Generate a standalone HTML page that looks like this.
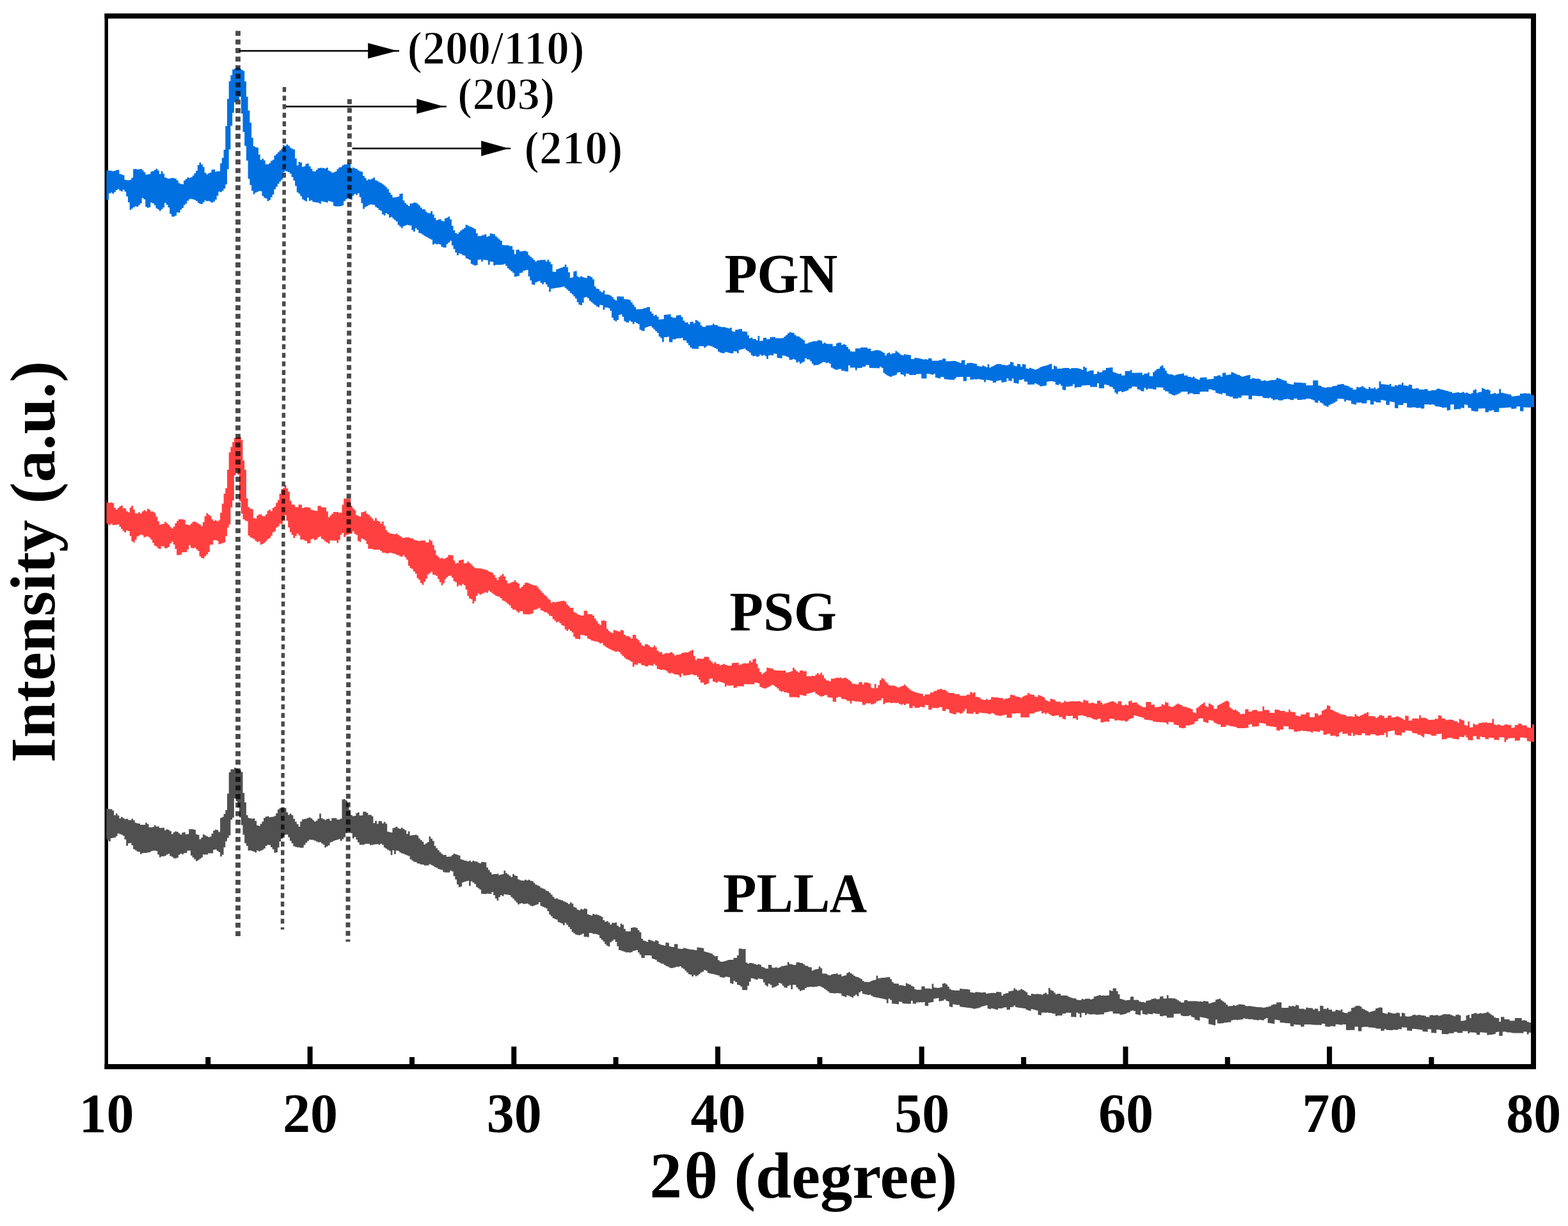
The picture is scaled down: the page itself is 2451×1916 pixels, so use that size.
<!DOCTYPE html>
<html><head><meta charset="utf-8"><title>XRD</title><style>html,body{margin:0;padding:0;background:#fff;overflow:hidden}svg{display:block}text{font-family:"Liberation Serif","Times New Roman",serif;font-weight:bold;fill:#000}</style></head><body>
<svg width="2451" height="1916" viewBox="0 0 2451 1916">
<rect width="2451" height="1916" fill="#fff"/>
<g fill="#000">
<rect x="163.5" y="21" width="2237.5" height="8"/>
<rect x="163.5" y="1663" width="2237.5" height="8"/>
<rect x="163.5" y="21" width="5.5" height="1650"/>
<rect x="2393" y="21" width="8" height="1650"/>
<rect x="321.2" y="1652" width="8" height="12.0"/>
<rect x="480.6" y="1635.6" width="8" height="28.4"/>
<rect x="640.0" y="1652" width="8" height="12.0"/>
<rect x="799.3" y="1635.6" width="8" height="28.4"/>
<rect x="958.6" y="1652" width="8" height="12.0"/>
<rect x="1118.0" y="1635.6" width="8" height="28.4"/>
<rect x="1277.4" y="1652" width="8" height="12.0"/>
<rect x="1436.7" y="1635.6" width="8" height="28.4"/>
<rect x="1596.1" y="1652" width="8" height="12.0"/>
<rect x="1755.4" y="1635.6" width="8" height="28.4"/>
<rect x="1914.8" y="1652" width="8" height="12.0"/>
<rect x="2074.1" y="1635.6" width="8" height="28.4"/>
<rect x="2233.5" y="1652" width="8" height="12.0"/>
</g>
<path fill="#0070E0" d="M166.4,266.2V266.2H167.3V266.6H170.0V266.6H172.8V267.0H175.5V267.6H178.2V267.1H180.9V265.7H183.6V265.5H186.4V271.7H189.1V272.7H191.8V273.8H194.5V280.9H197.2V281.4H200.0V281.8H202.7V281.1H205.4V277.8H208.1V264.3H210.8V264.1H213.6V265.0H216.3V264.5H219.0V264.0H221.7V265.9H224.4V268.9H227.2V272.8H229.9V272.6H232.6V272.1H235.3V268.3H238.0V267.5H240.8V265.7H243.5V263.8H246.2V266.6H248.9V272.0H251.6V267.6H254.4V271.4H257.1V277.2H259.8V278.6H262.5V279.3H265.2V278.8H268.0V278.1H270.7V278.4H273.4V279.3H276.1V282.0H278.8V286.2H281.6V287.6H284.3V288.1H287.0V282.2H289.7V279.7H292.4V277.2H295.2V278.2H297.9V277.0H300.6V274.6H303.3V271.1H306.0V266.9H308.8V258.0H311.5V253.9H314.2V257.1H316.9V260.9H319.6V270.1H322.4V272.4H325.1V270.7H327.8V269.4H330.5V265.3H333.2V264.8H336.0V268.3H338.7V267.8H341.4V267.4H344.1V255.3H346.8V246.7H349.6V234.0H352.3V197.0H355.0V154.5H357.7V127.1H360.4V117.4H363.2V108.6H365.9V107.2H368.6V106.2H371.3V105.3H374.0V107.6H376.8V108.9H379.5V110.8H382.2V127.2H384.9V151.3H387.6V172.7H390.4V191.8H393.1V215.3H395.8V228.5H398.5V230.0H401.2V230.7H404.0V241.6H406.7V249.7H409.4V248.0H412.1V250.7H414.8V256.7H417.6V256.7H420.3V254.9H423.0V251.6H425.7V249.8H428.4V243.3H431.2V240.7H433.9V237.8H436.6V235.2H439.3V232.5H442.0V226.8H444.8V227.9H447.5V225.8H450.2V227.7H452.9V230.7H455.6V232.6H458.4V233.6H461.1V247.6H463.8V258.4H466.5V253.1H469.2V254.0H472.0V260.8H474.7V260.0H477.4V256.3H480.1V255.4H482.8V259.9H485.6V263.7H488.3V267.4H491.0V268.0H493.7V265.6H496.4V263.1H499.2V262.2H501.9V262.5H504.6V262.5H507.3V263.6H510.0V262.0H512.8V266.5H515.5V267.9H518.2V270.1H520.9V269.2H523.6V268.0H526.4V264.4H529.1V261.7H531.8V261.2H534.5V258.5H537.2V257.1H540.0V257.1H542.7V255.0H545.4V256.0H548.1V263.6H550.8V261.7H553.6V262.9H556.3V264.0H559.0V266.2H561.7V267.4H564.4V268.5H567.2V274.9H569.9V278.3H572.6V281.7H575.3V280.3H578.0V280.4H580.8V279.0H583.5V277.6H586.2V281.8H588.9V282.7H591.6V284.7H594.4V285.9H597.1V288.0H599.8V290.0H602.5V292.5H605.2V295.5H608.0V300.9H610.7V304.6H613.4V308.4H616.1V308.6H618.8V307.9H621.6V307.2H624.3V303.0H627.0V302.4H629.7V313.3H632.4V317.2H635.2V319.7H637.9V321.9H640.6V317.9H643.3V318.1H646.0V316.6H648.8V316.8H651.5V318.6H654.2V321.1H656.9V324.6H659.6V327.0H662.4V327.2H665.1V330.7H667.8V333.0H670.5V333.2H673.2V330.0H676.0V335.3H678.7V340.6H681.4V344.3H684.1V343.3H686.8V342.4H689.6V345.1H692.3V345.8H695.0V341.3H697.7V340.3H700.4V338.6H703.2V342.7H705.9V352.8H708.6V360.1H711.3V364.2H714.0V365.4H716.8V362.7H719.5V360.0H722.2V358.3H724.9V356.2H727.6V351.2H730.4V352.5H733.1V353.9H735.8V354.9H738.5V356.2H741.2V357.9H744.0V364.4H746.7V369.0H749.4V368.9H752.1V368.1H754.8V367.3H757.6V366.0H760.3V369.9H763.0V369.1H765.7V364.7H768.4V365.4H771.2V366.1H773.9V369.2H776.6V371.5H779.3V373.9H782.0V376.2H784.8V383.1H787.5V383.3H790.2V383.3H792.9V383.3H795.6V384.5H798.4V384.5H801.1V390.3H803.8V397.2H806.5V390.5H809.2V390.3H812.0V393.1H814.7V392.4H817.4V392.2H820.1V392.0H822.8V393.4H825.6V398.7H828.3V401.2H831.0V403.4H833.7V406.3H836.4V408.7H839.2V407.1H841.9V406.8H844.6V406.3H847.3V406.3H850.0V406.0H852.8V408.7H855.5V405.8H858.2V409.2H860.9V412.7H863.6V424.4H866.4V425.0H869.1V421.1H871.8V420.1H874.5V419.0H877.2V418.0H880.0V417.0H882.7V413.5H885.4V417.8H888.1V425.6H890.8V434.2H893.6V433.5H896.3V424.3H899.0V423.6H901.7V431.9H904.4V433.6H907.2V431.4H909.9V433.1H912.6V434.1H915.3V434.5H918.0V431.1H920.8V431.4H923.5V433.1H926.2V436.5H928.9V447.5H931.6V450.9H934.4V451.7H937.1V455.1H939.8V457.1H942.5V453.9H945.2V460.3H948.0V460.3H950.7V460.7H953.4V461.9H956.1V464.2H958.8V467.4H961.6V469.6H964.3V463.2H967.0V463.3H969.7V463.5H972.4V463.6H975.2V467.5H977.9V467.7H980.6V467.8H983.3V468.9H986.0V472.5H988.8V476.2H991.5V479.9H994.2V483.4H996.9V483.2H999.6V483.0H1002.4V482.9H1005.1V481.8H1007.8V481.6H1010.5V480.0H1013.2V479.8H1016.0V486.7H1018.7V490.1H1021.4V493.4H1024.1V491.9H1026.8V495.0H1029.6V499.4H1032.3V499.1H1035.0V498.8H1037.7V492.1H1040.4V491.7H1043.2V491.4H1045.9V491.1H1048.6V495.2H1051.3V496.5H1054.0V496.5H1056.8V492.9H1059.5V492.4H1062.2V492.4H1064.9V495.4H1067.6V500.9H1070.4V504.1H1073.1V503.7H1075.8V506.8H1078.5V502.9H1081.2V502.7H1084.0V505.3H1086.7V499.9H1089.4V501.5H1092.1V503.6H1094.8V508.6H1097.6V510.7H1100.3V511.0H1103.0V508.7H1105.7V508.5H1108.4V508.4H1111.2V508.2H1113.9V505.8H1116.6V508.0H1119.3V507.9H1122.0V509.9H1124.8V510.6H1127.5V511.3H1130.2V511.0H1132.9V511.7H1135.6V512.4H1138.4V513.3H1141.1V512.1H1143.8V517.6H1146.5V518.6H1149.2V515.3H1152.0V515.3H1154.7V514.3H1157.4V514.3H1160.1V517.9H1162.8V517.9H1165.6V518.6H1168.3V524.0H1171.0V528.6H1173.7V527.7H1176.4V530.1H1179.2V529.7H1181.9V532.0H1184.6V525.0H1187.3V532.9H1190.0V532.6H1192.8V527.9H1195.5V527.7H1198.2V530.2H1200.9V530.0H1203.6V526.8H1206.4V526.8H1209.1V526.8H1211.8V528.6H1214.5V528.6H1217.2V528.6H1220.0V528.6H1222.7V528.3H1225.4V526.0H1228.1V523.7H1230.8V521.0H1233.6V519.1H1236.3V519.7H1239.0V520.3H1241.7V523.6H1244.4V525.5H1247.2V525.8H1249.9V527.8H1252.6V529.8H1255.3V531.8H1258.0V536.9H1260.8V536.8H1263.5V535.2H1266.2V534.5H1268.9V533.8H1271.6V533.1H1274.4V533.5H1277.1V532.0H1279.8V531.4H1282.5V532.4H1285.2V536.8H1288.0V535.6H1290.7V537.3H1293.4V537.4H1296.1V537.4H1298.8V537.4H1301.6V541.3H1304.3V540.7H1307.0V536.5H1309.7V535.6H1312.4V535.5H1315.2V538.9H1317.9V538.0H1320.6V538.9H1323.3V542.3H1326.0V545.7H1328.8V549.1H1331.5V549.6H1334.2V549.6H1336.9V544.6H1339.6V544.6H1342.4V544.6H1345.1V543.0H1347.8V543.0H1350.5V543.0H1353.2V543.0H1356.0V545.3H1358.7V544.8H1361.4V548.7H1364.1V548.3H1366.8V547.5H1369.6V547.0H1372.3V547.5H1375.0V548.2H1377.7V549.8H1380.4V551.4H1383.2V555.4H1385.9V552.2H1388.6V550.9H1391.3V553.6H1394.0V552.2H1396.8V551.9H1399.5V548.5H1402.2V550.6H1404.9V552.6H1407.6V554.8H1410.4V555.2H1413.1V553.5H1415.8V554.3H1418.5V554.6H1421.2V554.9H1424.0V561.0H1426.7V561.3H1429.4V559.1H1432.1V559.4H1434.8V559.8H1437.6V560.5H1440.3V561.2H1443.0V561.8H1445.7V561.3H1448.4V561.9H1451.2V559.8H1453.9V560.3H1456.6V563.8H1459.3V563.8H1462.0V563.8H1464.8V563.8H1467.5V562.7H1470.2V562.7H1472.9V560.5H1475.6V560.5H1478.4V564.5H1481.1V564.5H1483.8V564.5H1486.5V564.3H1489.2V563.9H1492.0V564.2H1494.7V565.2H1497.4V566.2H1500.1V567.3H1502.8V563.0H1505.6V562.8H1508.3V570.0H1511.0V567.6H1513.7V567.3H1516.4V567.0H1519.2V567.4H1521.9V568.3H1524.6V568.8H1527.3V572.1H1530.0V572.5H1532.8V573.0H1535.5V571.2H1538.2V572.5H1540.9V573.9H1543.6V569.2H1546.4V574.4H1549.1V573.0H1551.8V571.7H1554.5V570.3H1557.2V569.1H1560.0V569.1H1562.7V569.1H1565.4V570.2H1568.1V570.2H1570.8V570.7H1573.6V570.7H1576.3V569.6H1579.0V565.6H1581.7V566.3H1584.4V571.6H1587.2V572.2H1589.9V568.8H1592.6V569.3H1595.3V573.3H1598.0V568.9H1600.8V569.4H1603.5V575.8H1606.2V576.6H1608.9V574.7H1611.6V575.7H1614.4V576.8H1617.1V577.8H1619.8V576.7H1622.5V575.5H1625.2V573.8H1628.0V572.7H1630.7V572.0H1633.4V571.6H1636.1V570.6H1638.8V569.5H1641.6V568.5H1644.3V576.9H1647.0V571.4H1649.7V572.7H1652.4V576.3H1655.2V576.1H1657.9V575.9H1660.6V575.3H1663.3V575.1H1666.0V575.0H1668.8V575.0H1671.5V576.5H1674.2V575.2H1676.9V575.2H1679.6V575.2H1682.4V575.2H1685.1V576.1H1687.8V576.5H1690.5V578.1H1693.2V573.1H1696.0V574.8H1698.7V580.8H1701.4V579.5H1704.1V579.1H1706.8V578.7H1709.6V584.7H1712.3V584.3H1715.0V580.5H1717.7V582.1H1720.4V581.7H1723.2V578.7H1725.9V578.6H1728.6V574.9H1731.3V574.7H1734.0V574.5H1736.8V574.3H1739.5V581.5H1742.2V582.5H1744.9V583.5H1747.6V584.6H1750.4V584.1H1753.1V586.7H1755.8V586.7H1758.5V580.0H1761.2V580.0H1764.0V580.0H1766.7V578.3H1769.4V582.7H1772.1V582.7H1774.8V582.7H1777.6V582.6H1780.3V582.6H1783.0V582.6H1785.7V585.9H1788.4V583.7H1791.2V584.0H1793.9V582.1H1796.6V587.7H1799.3V588.0H1802.0V581.6H1804.8V579.2H1807.5V576.7H1810.2V576.3H1812.9V572.8H1815.6V571.1H1818.4V575.2H1821.1V579.3H1823.8V583.4H1826.5V585.2H1829.2V584.7H1832.0V585.7H1834.7V586.7H1837.4V585.7H1840.1V585.1H1842.8V584.4H1845.6V584.2H1848.3V583.6H1851.0V587.1H1853.7V586.5H1856.4V588.7H1859.2V588.9H1861.9V590.0H1864.6V588.6H1867.3V591.3H1870.0V592.4H1872.8V593.6H1875.5V590.2H1878.2V590.0H1880.9V589.7H1883.6V589.5H1886.4V592.9H1889.1V592.6H1891.8V592.4H1894.5V592.1H1897.2V588.1H1900.0V587.9H1902.7V586.8H1905.4V586.5H1908.1V588.8H1910.8V582.8H1913.6V582.4H1916.3V586.3H1919.0V585.8H1921.7V585.3H1924.4V581.4H1927.2V582.8H1929.9V584.1H1932.6V585.5H1935.3V586.0H1938.0V587.4H1940.8V588.7H1943.5V587.9H1946.2V587.3H1948.9V586.6H1951.6V585.9H1954.4V592.3H1957.1V590.7H1959.8V591.4H1962.5V592.1H1965.2V591.8H1968.0V592.5H1970.7V595.1H1973.4V594.9H1976.1V594.3H1978.8V595.5H1981.6V594.9H1984.3V594.4H1987.0V593.8H1989.7V594.1H1992.4V593.5H1995.2V590.6H1997.9V591.4H2000.6V592.2H2003.3V593.7H2006.0V594.5H2008.8V595.2H2011.5V599.1H2014.2V600.1H2016.9V600.5H2019.6V600.9H2022.4V597.4H2025.1V597.7H2027.8V598.1H2030.5V597.8H2033.2V598.2H2036.0V598.6H2038.7V598.6H2041.4V602.3H2044.1V602.3H2046.8V602.3H2049.6V602.3H2052.3V594.6H2055.0V594.6H2057.7V594.6H2060.4V602.4H2063.2V602.9H2065.9V604.9H2068.6V605.4H2071.3V606.0H2074.0V605.0H2076.8V605.3H2079.5V604.9H2082.2V603.6H2084.9V603.2H2087.6V602.8H2090.4V601.1H2093.1V600.7H2095.8V600.3H2098.5V600.3H2101.2V602.2H2104.0V602.8H2106.7V603.5H2109.4V605.6H2112.1V606.3H2114.8V608.9H2117.6V608.8H2120.3V604.7H2123.0V605.4H2125.7V604.8H2128.4V603.6H2131.2V605.6H2133.9V606.9H2136.6V608.3H2139.3V604.8H2142.0V607.1H2144.8V607.3H2147.5V605.6H2150.2V608.2H2152.9V606.5H2155.6V596.1H2158.4V600.3H2161.1V600.4H2163.8V600.8H2166.5V601.2H2169.2V601.6H2172.0V600.0H2174.7V603.9H2177.4V604.2H2180.1V602.1H2182.8V602.5H2185.6V600.9H2188.3V601.3H2191.0V597.9H2193.7V602.3H2196.4V602.8H2199.2V603.3H2201.9V601.0H2204.6V601.5H2207.3V607.2H2210.0V607.6H2212.8V606.6H2215.5V607.1H2218.2V608.8H2220.9V608.8H2223.6V608.9H2226.4V608.0H2229.1V608.0H2231.8V610.7H2234.5V610.7H2237.2V609.8H2240.0V609.8H2242.7V609.8H2245.4V607.5H2248.1V607.6H2250.8V608.4H2253.6V609.1H2256.3V609.7H2259.0V610.4H2261.7V610.9H2264.4V612.2H2267.2V612.5H2269.9V614.4H2272.6V614.0H2275.3V613.5H2278.0V613.1H2280.8V614.0H2283.5V613.6H2286.2V612.6H2288.9V614.4H2291.6V613.6H2294.4V614.9H2297.1V615.8H2299.8V614.5H2302.5V609.8H2305.2V608.4H2308.0V614.2H2310.7V612.8H2313.4V612.6H2316.1V606.5H2318.8V607.8H2321.6V609.2H2324.3V608.6H2327.0V609.9H2329.7V615.9H2332.4V615.2H2335.2V614.1H2337.9V615.4H2340.6V615.1H2343.3V607.9H2346.0V613.7H2348.8V614.3H2351.5V615.0H2354.2V615.6H2356.9V616.3H2359.6V616.5H2362.4V619.5H2365.1V619.3H2367.8V619.1H2370.5V618.5H2373.2V618.3H2376.0V615.1H2378.7V615.2H2381.4V614.4H2384.1V614.7H2386.8V614.9H2389.6V615.1H2392.3V617.3H2395.0V617.5H2397.7V617.6H2398.0V636.0H2397.7V635.9H2395.0V635.8H2392.3V636.9H2389.6V636.8H2386.8V636.7H2384.1V636.6H2381.4V642.7H2378.7V642.6H2376.0V635.3H2373.2V635.2H2370.5V638.6H2367.8V638.7H2365.1V638.9H2362.4V636.7H2359.6V636.8H2356.9V637.0H2354.2V637.3H2351.5V637.4H2348.8V637.6H2346.0V637.7H2343.3V643.7H2340.6V643.9H2337.9V643.9H2335.2V641.1H2332.4V641.8H2329.7V641.8H2327.0V644.3H2324.3V644.3H2321.6V638.2H2318.8V638.2H2316.1V638.5H2313.4V638.5H2310.7V643.0H2308.0V642.9H2305.2V642.4H2302.5V642.0H2299.8V637.7H2297.1V637.2H2294.4V632.7H2291.6V632.3H2288.9V637.7H2286.2V637.3H2283.5V639.4H2280.8V639.1H2278.0V639.4H2275.3V639.7H2272.6V632.0H2269.9V632.3H2267.2V641.1H2264.4V641.4H2261.7V636.7H2259.0V637.0H2256.3V637.3H2253.6V636.1H2250.8V635.6H2248.1V635.3H2245.4V634.7H2242.7V632.6H2240.0V632.1H2237.2V632.7H2234.5V632.1H2231.8V631.9H2229.1V632.0H2226.4V638.4H2223.6V638.5H2220.9V637.3H2218.2V637.5H2215.5V637.6H2212.8V636.4H2210.0V636.5H2207.3V636.9H2204.6V637.0H2201.9V636.8H2199.2V629.9H2196.4V629.7H2193.7V633.1H2191.0V633.0H2188.3V632.8H2185.6V637.9H2182.8V637.8H2180.1V628.5H2177.4V628.0H2174.7V627.5H2172.0V633.1H2169.2V632.6H2166.5V626.0H2163.8V625.5H2161.1V625.0H2158.4V629.2H2155.6V628.7H2152.9V628.8H2150.2V627.2H2147.5V632.2H2144.8V632.3H2142.0V625.5H2139.3V625.6H2136.6V630.3H2133.9V630.5H2131.2V630.6H2128.4V629.1H2125.7V629.3H2123.0V629.0H2120.3V632.2H2117.6V631.8H2114.8V631.3H2112.1V626.2H2109.4V625.8H2106.7V625.3H2104.0V627.4H2101.2V623.7H2098.5V623.3H2095.8V622.9H2093.1V623.3H2090.4V627.3H2087.6V628.9H2084.9V630.6H2082.2V631.4H2079.5V633.1H2076.8V635.7H2074.0V634.6H2071.3V633.5H2068.6V630.4H2065.9V629.3H2063.2V626.2H2060.4V629.8H2057.7V628.7H2055.0V625.4H2052.3V624.4H2049.6V623.4H2046.8V622.9H2044.1V623.0H2041.4V624.2H2038.7V624.3H2036.0V624.8H2033.2V624.9H2030.5V625.1H2027.8V622.7H2025.1V622.8H2022.4V625.0H2019.6V625.2H2016.9V624.1H2014.2V623.5H2011.5V623.8H2008.8V624.1H2006.0V625.5H2003.3V625.8H2000.6V625.5H1997.9V624.3H1995.2V624.6H1992.4V625.4H1989.7V623.3H1987.0V621.3H1984.3V622.4H1981.6V622.1H1978.8V621.9H1976.1V621.6H1973.4V618.9H1970.7V619.3H1968.0V619.1H1965.2V618.8H1962.5V618.5H1959.8V618.4H1957.1V624.1H1954.4V624.0H1951.6V618.0H1948.9V618.0H1946.2V618.0H1943.5V618.0H1940.8V621.5H1938.0V621.5H1935.3V622.8H1932.6V622.8H1929.9V622.8H1927.2V620.1H1924.4V620.1H1921.7V618.7H1919.0V618.6H1916.3V614.7H1913.6V614.0H1910.8V616.2H1908.1V615.5H1905.4V614.8H1902.7V614.1H1900.0V610.3H1897.2V609.7H1894.5V608.5H1891.8V608.5H1889.1V612.2H1886.4V612.0H1883.6V612.0H1880.9V612.0H1878.2V612.3H1875.5V616.1H1872.8V616.1H1870.0V616.1H1867.3V616.1H1864.6V614.4H1861.9V614.4H1859.2V616.3H1856.4V612.1H1853.7V612.1H1851.0V612.1H1848.3V612.3H1845.6V614.6H1842.8V615.7H1840.1V616.8H1837.4V617.9H1834.7V617.6H1832.0V616.1H1829.2V614.8H1826.5V611.8H1823.8V611.6H1821.1V609.4H1818.4V605.7H1815.6V605.6H1812.9V605.4H1810.2V605.2H1807.5V608.7H1804.8V608.6H1802.0V607.8H1799.3V607.6H1796.6V607.3H1793.9V609.0H1791.2V606.2H1788.4V611.5H1785.7V611.3H1783.0V608.9H1780.3V608.6H1777.6V604.5H1774.8V604.3H1772.1V604.0H1769.4V606.7H1766.7V607.6H1764.0V610.2H1761.2V611.1H1758.5V612.0H1755.8V612.9H1753.1V611.2H1750.4V612.1H1747.6V615.7H1744.9V613.5H1742.2V607.8H1739.5V604.8H1736.8V604.2H1734.0V602.3H1731.3V601.6H1728.6V601.0H1725.9V606.7H1723.2V606.7H1720.4V606.7H1717.7V599.1H1715.0V604.8H1712.3V604.8H1709.6V604.8H1706.8V604.8H1704.1V602.1H1701.4V602.1H1698.7V602.2H1696.0V602.3H1693.2V602.5H1690.5V604.9H1687.8V605.0H1685.1V605.1H1682.4V606.1H1679.6V600.2H1676.9V603.4H1674.2V603.5H1671.5V604.2H1668.8V604.3H1666.0V609.7H1663.3V609.3H1660.6V602.8H1657.9V600.0H1655.2V601.9H1652.4V601.1H1649.7V596.7H1647.0V595.9H1644.3V595.7H1641.6V596.1H1638.8V596.5H1636.1V602.6H1633.4V603.0H1630.7V603.4H1628.0V603.8H1625.2V601.7H1622.5V600.3H1619.8V598.9H1617.1V601.0H1614.4V600.8H1611.6V601.0H1608.9V600.9H1606.2V596.4H1603.5V596.3H1600.8V592.8H1598.0V593.8H1595.3V593.7H1592.6V599.4H1589.9V599.1H1587.2V598.5H1584.4V591.4H1581.7V595.5H1579.0V595.0H1576.3V591.2H1573.6V596.7H1570.8V597.2H1568.1V597.7H1565.4V594.2H1562.7V594.7H1560.0V595.2H1557.2V597.8H1554.5V598.1H1551.8V595.1H1549.1V594.6H1546.4V594.1H1543.6V593.6H1540.9V597.3H1538.2V593.7H1535.5V593.3H1532.8V592.8H1530.0V592.3H1527.3V592.9H1524.6V592.5H1521.9V593.2H1519.2V593.2H1516.4V589.0H1513.7V589.0H1511.0V595.4H1508.3V595.4H1505.6V589.0H1502.8V589.0H1500.1V589.2H1497.4V589.2H1494.7V591.6H1492.0V593.7H1489.2V593.6H1486.5V593.4H1483.8V593.0H1481.1V592.8H1478.4V592.6H1475.6V589.3H1472.9V589.1H1470.2V591.6H1467.5V590.8H1464.8V590.1H1462.0V584.3H1459.3V585.8H1456.6V585.0H1453.9V584.2H1451.2V584.1H1448.4V591.6H1445.7V591.6H1443.0V591.6H1440.3V584.6H1437.6V584.6H1434.8V584.6H1432.1V586.1H1429.4V585.7H1426.7V586.3H1424.0V585.9H1421.2V584.2H1418.5V583.8H1415.8V588.2H1413.1V585.8H1410.4V585.3H1407.6V581.7H1404.9V582.2H1402.2V585.8H1399.5V586.7H1396.8V587.5H1394.0V589.0H1391.3V588.1H1388.6V586.8H1385.9V585.0H1383.2V582.7H1380.4V574.9H1377.7V573.1H1375.0V575.4H1372.3V575.2H1369.6V575.2H1366.8V575.2H1364.1V574.9H1361.4V574.9H1358.7V570.6H1356.0V570.6H1353.2V572.9H1350.5V572.9H1347.8V575.0H1345.1V575.0H1342.4V575.2H1339.6V578.5H1336.9V574.5H1334.2V574.5H1331.5V574.5H1328.8V571.1H1326.0V580.5H1323.3V580.5H1320.6V579.4H1317.9V579.4H1315.2V576.8H1312.4V576.8H1309.7V578.1H1307.0V577.5H1304.3V576.0H1301.6V574.4H1298.8V568.3H1296.1V566.7H1293.4V567.6H1290.7V566.1H1288.0V565.8H1285.2V567.4H1282.5V569.0H1279.8V570.6H1277.1V570.5H1274.4V571.1H1271.6V568.4H1268.9V564.6H1266.2V561.8H1263.5V561.6H1260.8V559.8H1258.0V565.2H1255.3V566.8H1252.6V568.4H1249.9V565.3H1247.2V566.6H1244.4V562.3H1241.7V561.1H1239.0V562.3H1236.3V562.6H1233.6V558.3H1230.8V557.1H1228.1V556.0H1225.4V555.6H1222.7V560.0H1220.0V559.6H1217.2V559.3H1214.5V552.9H1211.8V552.5H1209.1V555.4H1206.4V555.1H1203.6V555.4H1200.9V561.1H1198.2V556.4H1195.5V554.7H1192.8V555.9H1190.0V554.2H1187.3V557.1H1184.6V557.5H1181.9V555.9H1179.2V556.7H1176.4V554.9H1173.7V550.9H1171.0V549.0H1168.3V547.2H1165.6V544.7H1162.8V545.4H1160.1V546.0H1157.4V546.7H1154.7V551.9H1152.0V549.2H1149.2V549.1H1146.5V552.3H1143.8V551.9H1141.1V551.6H1138.4V550.4H1135.6V550.1H1132.9V552.0H1130.2V551.7H1127.5V551.0H1124.8V549.6H1122.0V545.4H1119.3V544.0H1116.6V542.7H1113.9V541.3H1111.2V540.4H1108.4V539.8H1105.7V541.6H1103.0V543.4H1100.3V540.9H1097.6V540.9H1094.8V540.9H1092.1V545.3H1089.4V545.3H1086.7V545.3H1084.0V544.7H1081.2V542.9H1078.5V539.4H1075.8V536.0H1073.1V532.1H1070.4V532.1H1067.6V527.9H1064.9V528.7H1062.2V528.7H1059.5V528.7H1056.8V530.3H1054.0V530.3H1051.3V534.7H1048.6V534.7H1045.9V526.2H1043.2V527.0H1040.4V527.0H1037.7V534.6H1035.0V528.5H1032.3V525.8H1029.6V520.3H1026.8V517.5H1024.1V514.8H1021.4V512.0H1018.7V509.4H1016.0V510.0H1013.2V511.0H1010.5V512.0H1007.8V517.1H1005.1V516.9H1002.4V515.3H999.6V506.5H996.9V504.9H994.2V503.3H991.5V506.6H988.8V503.1H986.0V501.2H983.3V503.9H980.6V503.7H977.9V501.8H975.2V495.1H972.4V491.3H969.7V492.3H967.0V500.1H964.3V502.3H961.6V500.4H958.8V496.4H956.1V485.8H953.4V481.7H950.7V480.8H948.0V480.4H945.2V484.3H942.5V476.9H939.8V476.5H937.1V480.2H934.4V478.7H931.6V476.5H928.9V474.4H926.2V472.2H923.5V470.1H920.8V466.0H918.0V463.9H915.3V465.0H912.6V473.0H909.9V477.0H907.2V476.0H904.4V472.2H901.7V466.6H899.0V463.2H896.3V460.0H893.6V457.7H890.8V454.7H888.1V452.4H885.4V450.1H882.7V447.8H880.0V448.6H877.2V449.1H874.5V449.6H871.8V449.7H869.1V450.2H866.4V450.7H863.6V451.3H860.9V456.1H858.2V448.4H855.5V444.6H852.8V440.9H850.0V444.3H847.3V441.9H844.6V439.1H841.9V440.2H839.2V441.3H836.4V445.2H833.7V444.6H831.0V438.3H828.3V432.0H825.6V421.8H822.8V422.5H820.1V423.3H817.4V426.0H814.7V426.8H812.0V431.2H809.2V432.0H806.5V432.4H803.8V426.5H801.1V424.0H798.4V421.8H795.6V419.3H792.9V415.6H790.2V412.4H787.5V413.5H784.8V413.7H782.0V413.9H779.3V413.7H776.6V414.0H773.9V414.7H771.2V409.3H768.4V408.8H765.7V413.8H763.0V406.8H760.3V406.3H757.6V405.9H754.8V408.7H752.1V405.4H749.4V406.1H746.7V414.2H744.0V414.9H741.2V413.8H738.5V412.4H735.8V406.1H733.1V404.8H730.4V403.4H727.6V399.6H724.9V398.8H722.2V396.8H719.5V396.0H716.8V398.9H714.0V394.5H711.3V389.1H708.6V383.6H705.9V376.2H703.2V378.9H700.4V381.6H697.7V386.7H695.0V386.7H692.3V385.8H689.6V382.2H686.8V381.3H684.1V381.7H681.4V380.7H678.7V382.3H676.0V374.6H673.2V373.0H670.5V371.4H667.8V370.0H665.1V368.4H662.4V366.8H659.6V364.7H656.9V363.9H654.2V359.2H651.5V356.7H648.8V362.1H646.0V359.6H643.3V352.5H640.6V351.9H637.9V351.5H635.2V352.5H632.4V353.5H629.7V356.6H627.0V354.1H624.3V351.6H621.6V346.2H618.8V344.0H616.1V341.5H613.4V338.9H610.7V340.0H608.0V334.9H605.2V333.1H602.5V336.7H599.8V335.1H597.1V329.4H594.4V328.0H591.6V325.0H588.9V323.6H586.2V320.3H583.5V319.8H580.8V319.5H578.0V320.6H575.3V322.3H572.6V323.4H569.9V326.4H567.2V317.4H564.4V308.3H561.7V302.0H559.0V304.7H556.3V303.1H553.6V305.8H550.8V312.1H548.1V311.3H545.4V308.9H542.7V311.6H540.0V314.3H537.2V321.0H534.5V321.9H531.8V322.5H529.1V322.6H526.4V322.6H523.6V321.8H520.9V315.7H518.2V314.9H515.5V314.1H512.8V316.5H510.0V315.8H507.3V315.2H504.6V314.5H501.9V318.5H499.2V316.8H496.4V316.4H493.7V316.0H491.0V315.6H488.3V312.8H485.6V313.9H482.8V309.1H480.1V314.8H477.4V313.3H474.7V311.4H472.0V306.6H469.2V302.7H466.5V300.5H463.8V290.6H461.1V282.2H458.4V276.8H455.6V271.4H452.9V269.1H450.2V268.0H447.5V266.9H444.8V269.2H442.0V280.7H439.3V283.7H436.6V287.2H433.9V291.7H431.2V295.8H428.4V303.9H425.7V308.3H423.0V312.7H420.3V314.2H417.6V310.3H414.8V309.1H412.1V306.0H409.4V298.7H406.7V298.4H404.0V299.7H401.2V301.1H398.5V303.4H395.8V298.3H393.1V289.3H390.4V279.4H387.6V251.1H384.9V228.1H382.2V206.3H379.5V177.6H376.8V151.2H374.0V155.8H371.3V156.4H368.6V160.1H365.9V176.3H363.2V196.4H360.4V233.5H357.7V264.5H355.0V288.3H352.3V294.7H349.6V298.2H346.8V300.2H344.1V299.6H341.4V305.8H338.7V312.0H336.0V314.9H333.2V316.8H330.5V315.5H327.8V314.1H325.1V314.4H322.4V313.3H319.6V316.3H316.9V319.0H314.2V318.5H311.5V317.0H308.8V314.1H306.0V312.5H303.3V311.6H300.6V310.7H297.9V311.2H295.2V313.7H292.4V318.2H289.7V320.5H287.0V325.0H284.3V327.8H281.6V332.2H278.8V332.1H276.1V337.0H273.4V338.5H270.7V338.6H268.0V334.2H265.2V324.2H262.5V319.9H259.8V317.0H257.1V324.2H254.4V327.0H251.6V329.7H248.9V327.2H246.2V325.4H243.5V320.7H240.8V317.7H238.0V316.4H235.3V324.0H232.6V324.7H229.9V323.3H227.2V311.4H224.4V309.4H221.7V317.8H219.0V320.6H216.3V323.3H213.6V322.4H210.8V323.8H208.1V325.7H205.4V328.0H202.7V316.3H200.0V306.9H197.2V299.6H194.5V296.5H191.8V299.3H189.1V298.1H186.4V295.5H183.6V296.9H180.9V300.2H178.2V302.8H175.5V301.0H172.8V302.3H170.0V312.2H167.3V313.1H166.4Z"/>
<path fill="#FF4040" d="M166.4,782.6V782.6H167.3V785.8H170.0V785.8H172.8V785.3H175.5V786.3H178.2V793.4H180.9V796.4H183.6V793.7H186.4V791.3H189.1V789.9H191.8V794.3H194.5V794.6H197.2V798.9H200.0V800.4H202.7V793.2H205.4V790.3H208.1V796.6H210.8V802.0H213.6V802.4H216.3V800.4H219.0V802.4H221.7V799.3H224.4V797.3H227.2V799.3H229.9V794.9H232.6V796.7H235.3V799.6H238.0V799.6H240.8V801.5H243.5V807.6H246.2V814.4H248.9V820.1H251.6V819.3H254.4V818.5H257.1V815.6H259.8V817.4H262.5V819.9H265.2V823.6H268.0V826.1H270.7V823.0H273.4V818.0H276.1V814.2H278.8V811.4H281.6V811.4H284.3V811.4H287.0V812.4H289.7V819.6H292.4V819.9H295.2V821.1H297.9V818.3H300.6V815.6H303.3V815.1H306.0V816.6H308.8V818.2H311.5V819.8H314.2V822.4H316.9V816.0H319.6V806.7H322.4V801.9H325.1V804.2H327.8V806.2H330.5V811.6H333.2V814.0H336.0V812.9H338.7V814.9H341.4V813.0H344.1V801.2H346.8V787.3H349.6V771.4H352.3V762.9H355.0V734.1H357.7V707.1H360.4V698.6H363.2V691.1H365.9V684.6H368.6V683.9H371.3V683.4H374.0V683.0H376.8V687.8H379.5V719.7H382.2V733.9H384.9V778.8H387.6V792.4H390.4V795.1H393.1V795.8H395.8V809.7H398.5V810.4H401.2V805.8H404.0V804.1H406.7V803.7H409.4V806.6H412.1V806.8H414.8V803.9H417.6V798.3H420.3V796.5H423.0V798.9H425.7V794.1H428.4V791.7H431.2V785.7H433.9V781.6H436.6V771.6H439.3V764.4H442.0V762.8H444.8V758.2H447.5V763.3H450.2V768.3H452.9V782.5H455.6V788.4H458.4V788.7H461.1V792.2H463.8V792.7H466.5V788.4H469.2V788.8H472.0V794.0H474.7V793.1H477.4V792.4H480.1V792.8H482.8V793.4H485.6V796.8H488.3V797.3H491.0V797.9H493.7V798.4H496.4V790.5H499.2V790.5H501.9V792.9H504.6V792.9H507.3V792.9H510.0V799.3H512.8V808.2H515.5V805.5H518.2V802.7H520.9V800.0H523.6V800.3H526.4V799.9H529.1V801.6H531.8V801.2H534.5V788.7H537.2V779.3H540.0V779.3H542.7V779.3H545.4V779.6H548.1V790.5H550.8V794.2H553.6V797.3H556.3V805.0H559.0V806.3H561.7V807.2H564.4V800.5H567.2V799.9H569.9V798.7H572.6V803.0H575.3V804.4H578.0V807.5H580.8V810.6H583.5V813.7H586.2V809.4H588.9V813.8H591.6V814.9H594.4V818.4H597.1V815.0H599.8V821.8H602.5V828.6H605.2V831.7H608.0V833.6H610.7V834.0H613.4V834.5H616.1V835.1H618.8V833.8H621.6V836.1H624.3V838.1H627.0V840.1H629.7V841.1H632.4V839.7H635.2V839.7H637.9V839.7H640.6V841.2H643.3V841.2H646.0V843.5H648.8V844.2H651.5V844.9H654.2V845.6H656.9V844.8H659.6V844.8H662.4V844.8H665.1V847.7H667.8V847.7H670.5V843.2H673.2V845.5H676.0V851.8H678.7V859.4H681.4V867.6H684.1V870.3H686.8V873.1H689.6V871.8H692.3V873.5H695.0V872.4H697.7V870.8H700.4V867.3H703.2V867.4H705.9V868.0H708.6V875.9H711.3V880.5H714.0V879.9H716.8V875.7H719.5V875.1H722.2V874.5H724.9V880.6H727.6V880.0H730.4V877.4H733.1V880.1H735.8V882.2H738.5V885.0H741.2V887.4H744.0V888.0H746.7V888.2H749.4V888.5H752.1V888.7H754.8V890.0H757.6V890.3H760.3V891.3H763.0V893.1H765.7V894.1H768.4V895.2H771.2V898.8H773.9V903.0H776.6V906.6H779.3V901.5H782.0V899.2H784.8V897.0H787.5V901.1H790.2V907.1H792.9V911.6H795.6V911.4H798.4V909.9H801.1V909.2H803.8V906.8H806.5V909.9H809.2V912.1H812.0V919.3H814.7V917.1H817.4V913.9H820.1V910.7H822.8V910.5H825.6V911.4H828.3V913.1H831.0V914.0H833.7V914.9H836.4V914.9H839.2V917.4H841.9V920.7H844.6V923.7H847.3V926.7H850.0V929.7H852.8V932.1H855.5V935.4H858.2V937.6H860.9V942.3H863.6V940.6H866.4V941.2H869.1V940.7H871.8V940.3H874.5V939.6H877.2V939.2H880.0V938.7H882.7V940.2H885.4V944.5H888.1V947.2H890.8V949.9H893.6V949.8H896.3V956.4H899.0V958.0H901.7V959.7H904.4V961.0H907.2V961.9H909.9V962.1H912.6V954.4H915.3V954.6H918.0V959.7H920.8V959.9H923.5V960.1H926.2V962.0H928.9V966.4H931.6V970.4H934.4V974.5H937.1V976.8H939.8V969.9H942.5V969.5H945.2V970.4H948.0V982.7H950.7V985.9H953.4V988.3H956.1V989.2H958.8V984.6H961.6V985.5H964.3V986.3H967.0V987.2H969.7V984.4H972.4V985.2H975.2V992.0H977.9V994.2H980.6V994.1H983.3V995.5H986.0V998.0H988.8V992.2H991.5V991.9H994.2V997.8H996.9V1000.5H999.6V1004.2H1002.4V1008.4H1005.1V1009.9H1007.8V1006.7H1010.5V1006.9H1013.2V1008.7H1016.0V1011.3H1018.7V1011.5H1021.4V1008.7H1024.1V1011.5H1026.8V1016.8H1029.6V1019.6H1032.3V1019.0H1035.0V1022.6H1037.7V1021.5H1040.4V1020.4H1043.2V1021.0H1045.9V1019.9H1048.6V1019.0H1051.3V1021.7H1054.0V1024.5H1056.8V1023.3H1059.5V1022.9H1062.2V1022.4H1064.9V1020.4H1067.6V1020.0H1070.4V1019.5H1073.1V1019.8H1075.8V1018.5H1078.5V1017.0H1081.2V1015.7H1084.0V1025.3H1086.7V1031.4H1089.4V1029.1H1092.1V1029.2H1094.8V1029.4H1097.6V1029.6H1100.3V1026.4H1103.0V1026.6H1105.7V1026.8H1108.4V1031.8H1111.2V1034.2H1113.9V1037.2H1116.6V1034.5H1119.3V1037.6H1122.0V1037.6H1124.8V1039.7H1127.5V1038.7H1130.2V1037.6H1132.9V1039.1H1135.6V1039.8H1138.4V1040.5H1141.1V1040.3H1143.8V1036.3H1146.5V1036.0H1149.2V1035.8H1152.0V1035.5H1154.7V1039.0H1157.4V1038.5H1160.1V1036.9H1162.8V1036.4H1165.6V1037.1H1168.3V1036.4H1171.0V1032.5H1173.7V1035.1H1176.4V1030.2H1179.2V1029.3H1181.9V1037.5H1184.6V1044.3H1187.3V1050.3H1190.0V1053.5H1192.8V1051.6H1195.5V1049.6H1198.2V1043.6H1200.9V1044.1H1203.6V1044.6H1206.4V1045.1H1209.1V1047.2H1211.8V1047.7H1214.5V1047.8H1217.2V1047.9H1220.0V1047.9H1222.7V1047.9H1225.4V1047.9H1228.1V1051.3H1230.8V1050.8H1233.6V1049.9H1236.3V1049.0H1239.0V1043.6H1241.7V1046.3H1244.4V1049.0H1247.2V1051.0H1249.9V1047.9H1252.6V1047.5H1255.3V1049.3H1258.0V1049.1H1260.8V1057.0H1263.5V1056.4H1266.2V1057.0H1268.9V1056.0H1271.6V1056.6H1274.4V1054.3H1277.1V1052.1H1279.8V1054.6H1282.5V1051.2H1285.2V1055.2H1288.0V1060.2H1290.7V1063.0H1293.4V1063.8H1296.1V1064.7H1298.8V1060.5H1301.6V1060.7H1304.3V1059.9H1307.0V1059.1H1309.7V1059.5H1312.4V1058.7H1315.2V1060.6H1317.9V1059.5H1320.6V1059.0H1323.3V1061.1H1326.0V1062.8H1328.8V1064.9H1331.5V1068.4H1334.2V1068.5H1336.9V1069.6H1339.6V1069.6H1342.4V1066.1H1345.1V1066.1H1347.8V1069.7H1350.5V1066.6H1353.2V1066.6H1356.0V1067.2H1358.7V1068.3H1361.4V1074.8H1364.1V1075.9H1366.8V1068.8H1369.6V1075.3H1372.3V1070.8H1375.0V1063.0H1377.7V1059.8H1380.4V1061.4H1383.2V1065.4H1385.9V1068.1H1388.6V1070.8H1391.3V1071.4H1394.0V1071.3H1396.8V1071.8H1399.5V1073.0H1402.2V1074.6H1404.9V1073.7H1407.6V1072.6H1410.4V1071.4H1413.1V1069.8H1415.8V1072.6H1418.5V1075.3H1421.2V1077.7H1424.0V1079.4H1426.7V1080.8H1429.4V1081.7H1432.1V1082.6H1434.8V1083.2H1437.6V1083.9H1440.3V1084.6H1443.0V1088.0H1445.7V1085.2H1448.4V1085.2H1451.2V1085.2H1453.9V1082.2H1456.6V1082.2H1459.3V1080.1H1462.0V1079.5H1464.8V1077.4H1467.5V1077.3H1470.2V1076.4H1472.9V1078.2H1475.6V1078.1H1478.4V1079.9H1481.1V1082.3H1483.8V1083.0H1486.5V1083.0H1489.2V1083.0H1492.0V1084.7H1494.7V1084.7H1497.4V1084.7H1500.1V1087.3H1502.8V1087.3H1505.6V1087.3H1508.3V1087.3H1511.0V1085.5H1513.7V1085.5H1516.4V1081.3H1519.2V1083.2H1521.9V1082.1H1524.6V1088.9H1527.3V1089.3H1530.0V1090.3H1532.8V1093.1H1535.5V1093.6H1538.2V1094.0H1540.9V1092.3H1543.6V1094.1H1546.4V1093.2H1549.1V1089.6H1551.8V1089.6H1554.5V1090.1H1557.2V1089.8H1560.0V1090.4H1562.7V1090.9H1565.4V1090.8H1568.1V1093.2H1570.8V1091.8H1573.6V1091.5H1576.3V1090.4H1579.0V1085.8H1581.7V1086.3H1584.4V1086.7H1587.2V1088.6H1589.9V1089.1H1592.6V1089.6H1595.3V1091.1H1598.0V1088.4H1600.8V1087.3H1603.5V1086.2H1606.2V1082.9H1608.9V1085.1H1611.6V1085.6H1614.4V1086.0H1617.1V1088.8H1619.8V1089.2H1622.5V1086.2H1625.2V1087.2H1628.0V1088.5H1630.7V1089.9H1633.4V1094.0H1636.1V1095.3H1638.8V1096.5H1641.6V1092.0H1644.3V1092.7H1647.0V1093.4H1649.7V1096.3H1652.4V1096.7H1655.2V1096.5H1657.9V1098.4H1660.6V1098.1H1663.3V1095.3H1666.0V1096.7H1668.8V1096.7H1671.5V1096.3H1674.2V1096.0H1676.9V1096.0H1679.6V1096.2H1682.4V1096.2H1685.1V1095.5H1687.8V1096.6H1690.5V1097.7H1693.2V1093.7H1696.0V1094.8H1698.7V1095.3H1701.4V1099.3H1704.1V1098.7H1706.8V1098.0H1709.6V1099.4H1712.3V1099.7H1715.0V1094.9H1717.7V1095.1H1720.4V1098.1H1723.2V1101.0H1725.9V1099.6H1728.6V1098.8H1731.3V1098.1H1734.0V1096.8H1736.8V1096.0H1739.5V1096.2H1742.2V1098.0H1744.9V1099.8H1747.6V1095.7H1750.4V1095.9H1753.1V1102.3H1755.8V1102.3H1758.5V1101.0H1761.2V1102.3H1764.0V1096.1H1766.7V1095.0H1769.4V1098.2H1772.1V1097.9H1774.8V1097.6H1777.6V1100.6H1780.3V1102.2H1783.0V1103.8H1785.7V1105.3H1788.4V1105.3H1791.2V1097.1H1793.9V1097.1H1796.6V1097.1H1799.3V1101.6H1802.0V1101.1H1804.8V1105.5H1807.5V1105.0H1810.2V1104.4H1812.9V1103.9H1815.6V1100.6H1818.4V1101.7H1821.1V1097.2H1823.8V1098.3H1826.5V1103.4H1829.2V1104.5H1832.0V1104.7H1834.7V1102.9H1837.4V1101.1H1840.1V1099.5H1842.8V1101.0H1845.6V1102.0H1848.3V1104.2H1851.0V1104.6H1853.7V1105.3H1856.4V1106.3H1859.2V1107.3H1861.9V1108.4H1864.6V1113.3H1867.3V1114.3H1870.0V1106.3H1872.8V1104.2H1875.5V1102.1H1878.2V1100.1H1880.9V1098.0H1883.6V1103.5H1886.4V1105.0H1889.1V1099.2H1891.8V1100.7H1894.5V1102.2H1897.2V1107.8H1900.0V1107.4H1902.7V1102.2H1905.4V1100.8H1908.1V1099.5H1910.8V1097.7H1913.6V1096.3H1916.3V1095.0H1919.0V1096.6H1921.7V1105.8H1924.4V1107.9H1927.2V1110.0H1929.9V1109.1H1932.6V1111.1H1935.3V1112.9H1938.0V1116.0H1940.8V1115.8H1943.5V1115.5H1946.2V1108.4H1948.9V1108.2H1951.6V1112.3H1954.4V1112.0H1957.1V1109.9H1959.8V1109.6H1962.5V1109.2H1965.2V1111.8H1968.0V1111.4H1970.7V1111.5H1973.4V1104.1H1976.1V1109.6H1978.8V1109.5H1981.6V1109.8H1984.3V1113.7H1987.0V1114.0H1989.7V1114.3H1992.4V1108.9H1995.2V1109.1H1997.9V1109.4H2000.6V1110.9H2003.3V1111.1H2006.0V1111.0H2008.8V1112.9H2011.5V1113.1H2014.2V1108.8H2016.9V1112.2H2019.6V1112.7H2022.4V1113.3H2025.1V1118.2H2027.8V1118.9H2030.5V1119.5H2033.2V1116.5H2036.0V1116.5H2038.7V1116.5H2041.4V1113.5H2044.1V1113.5H2046.8V1120.8H2049.6V1120.8H2052.3V1120.8H2055.0V1115.1H2057.7V1115.1H2060.4V1118.3H2063.2V1116.9H2065.9V1110.7H2068.6V1109.3H2071.3V1107.8H2074.0V1102.6H2076.8V1103.3H2079.5V1108.9H2082.2V1110.1H2084.9V1111.4H2087.6V1112.8H2090.4V1114.1H2093.1V1115.5H2095.8V1116.4H2098.5V1116.8H2101.2V1117.3H2104.0V1119.3H2106.7V1119.8H2109.4V1119.2H2112.1V1119.4H2114.8V1120.3H2117.6V1116.0H2120.3V1118.8H2123.0V1119.8H2125.7V1118.3H2128.4V1116.9H2131.2V1115.5H2133.9V1114.4H2136.6V1113.1H2139.3V1119.2H2142.0V1118.9H2144.8V1119.3H2147.5V1119.7H2150.2V1122.3H2152.9V1120.3H2155.6V1117.5H2158.4V1117.9H2161.1V1119.1H2163.8V1122.3H2166.5V1121.8H2169.2V1118.4H2172.0V1117.9H2174.7V1121.5H2177.4V1121.0H2180.1V1120.5H2182.8V1119.3H2185.6V1120.5H2188.3V1121.6H2191.0V1123.0H2193.7V1125.0H2196.4V1118.3H2199.2V1119.1H2201.9V1126.3H2204.6V1126.1H2207.3V1122.9H2210.0V1122.7H2212.8V1122.6H2215.5V1123.6H2218.2V1117.8H2220.9V1121.7H2223.6V1121.7H2226.4V1121.7H2229.1V1123.0H2231.8V1124.9H2234.5V1124.9H2237.2V1124.7H2240.0V1124.7H2242.7V1123.3H2245.4V1123.4H2248.1V1117.8H2250.8V1118.4H2253.6V1122.5H2256.3V1123.1H2259.0V1125.3H2261.7V1125.3H2264.4V1124.5H2267.2V1124.7H2269.9V1124.9H2272.6V1127.0H2275.3V1127.3H2278.0V1129.6H2280.8V1123.4H2283.5V1124.8H2286.2V1126.1H2288.9V1133.3H2291.6V1134.0H2294.4V1127.6H2297.1V1137.0H2299.8V1136.6H2302.5V1131.0H2305.2V1132.8H2308.0V1132.4H2310.7V1130.2H2313.4V1129.7H2316.1V1129.3H2318.8V1129.4H2321.6V1128.4H2324.3V1129.9H2327.0V1129.4H2329.7V1130.1H2332.4V1123.4H2335.2V1132.3H2337.9V1133.3H2340.6V1132.1H2343.3V1133.1H2346.0V1134.0H2348.8V1134.1H2351.5V1132.3H2354.2V1131.9H2356.9V1133.2H2359.6V1132.8H2362.4V1137.4H2365.1V1137.0H2367.8V1133.3H2370.5V1133.0H2373.2V1130.8H2376.0V1131.0H2378.7V1133.4H2381.4V1133.6H2384.1V1133.7H2386.8V1137.1H2389.6V1137.2H2392.3V1137.4H2395.0V1132.0H2397.7V1132.1H2398.0V1159.8H2397.7V1159.4H2395.0V1158.8H2392.3V1158.8H2389.6V1158.2H2386.8V1153.3H2384.1V1153.0H2381.4V1152.6H2378.7V1152.7H2376.0V1157.3H2373.2V1157.4H2370.5V1157.6H2367.8V1153.3H2365.1V1153.4H2362.4V1153.6H2359.6V1153.7H2356.9V1156.2H2354.2V1159.8H2351.5V1152.4H2348.8V1152.3H2346.0V1152.1H2343.3V1156.5H2340.6V1156.3H2337.9V1156.2H2335.2V1153.0H2332.4V1152.9H2329.7V1152.8H2327.0V1155.2H2324.3V1155.1H2321.6V1152.2H2318.8V1152.0H2316.1V1151.3H2313.4V1155.4H2310.7V1155.2H2308.0V1150.4H2305.2V1150.2H2302.5V1157.0H2299.8V1156.8H2297.1V1156.5H2294.4V1152.5H2291.6V1149.3H2288.9V1151.9H2286.2V1151.8H2283.5V1151.4H2280.8V1155.6H2278.0V1155.2H2275.3V1154.8H2272.6V1154.4H2269.9V1152.9H2267.2V1153.0H2264.4V1153.2H2261.7V1155.2H2259.0V1155.3H2256.3V1155.4H2253.6V1146.8H2250.8V1146.9H2248.1V1147.1H2245.4V1149.7H2242.7V1149.9H2240.0V1149.7H2237.2V1147.8H2234.5V1147.5H2231.8V1147.1H2229.1V1146.8H2226.4V1152.2H2223.6V1150.1H2220.9V1148.4H2218.2V1148.1H2215.5V1146.1H2212.8V1145.9H2210.0V1145.6H2207.3V1142.4H2204.6V1142.1H2201.9V1141.8H2199.2V1141.6H2196.4V1145.0H2193.7V1144.7H2191.0V1149.4H2188.3V1149.1H2185.6V1149.0H2182.8V1147.9H2180.1V1141.6H2177.4V1142.1H2174.7V1142.6H2172.0V1143.1H2169.2V1152.1H2166.5V1145.3H2163.8V1148.7H2161.1V1149.1H2158.4V1149.0H2155.6V1149.7H2152.9V1149.6H2150.2V1147.8H2147.5V1147.6H2144.8V1147.5H2142.0V1149.5H2139.3V1149.3H2136.6V1149.2H2133.9V1146.0H2131.2V1145.9H2128.4V1149.0H2125.7V1148.9H2123.0V1148.5H2120.3V1148.0H2117.6V1150.3H2114.8V1145.2H2112.1V1150.0H2109.4V1149.5H2106.7V1146.5H2104.0V1146.8H2101.2V1147.0H2098.5V1143.6H2095.8V1144.9H2093.1V1150.9H2090.4V1151.2H2087.6V1149.5H2084.9V1149.7H2082.2V1150.0H2079.5V1146.7H2076.8V1146.5H2074.0V1148.2H2071.3V1148.3H2068.6V1141.9H2065.9V1141.5H2063.2V1143.8H2060.4V1143.5H2057.7V1143.1H2055.0V1142.7H2052.3V1144.9H2049.6V1143.4H2046.8V1143.1H2044.1V1142.7H2041.4V1142.6H2038.7V1142.3H2036.0V1141.4H2033.2V1142.8H2030.5V1142.5H2027.8V1143.7H2025.1V1143.4H2022.4V1140.1H2019.6V1139.8H2016.9V1139.5H2014.2V1135.2H2011.5V1135.0H2008.8V1134.7H2006.0V1140.3H2003.3V1140.1H2000.6V1141.9H1997.9V1141.4H1995.2V1136.2H1992.4V1135.8H1989.7V1135.4H1987.0V1135.0H1984.3V1134.6H1981.6V1134.2H1978.8V1130.9H1976.1V1130.5H1973.4V1130.1H1970.7V1129.8H1968.0V1134.9H1965.2V1135.2H1962.5V1135.5H1959.8V1135.8H1957.1V1131.8H1954.4V1132.2H1951.6V1137.5H1948.9V1137.8H1946.2V1138.1H1943.5V1138.0H1940.8V1138.0H1938.0V1138.0H1935.3V1137.6H1932.6V1136.0H1929.9V1135.5H1927.2V1135.1H1924.4V1134.8H1921.7V1133.5H1919.0V1133.5H1916.3V1136.0H1913.6V1136.0H1910.8V1136.0H1908.1V1132.1H1905.4V1132.1H1902.7V1130.4H1900.0V1129.5H1897.2V1126.6H1894.5V1125.7H1891.8V1124.9H1889.1V1129.7H1886.4V1128.9H1883.6V1128.0H1880.9V1122.7H1878.2V1122.5H1875.5V1123.3H1872.8V1126.9H1870.0V1127.7H1867.3V1131.6H1864.6V1132.4H1861.9V1133.1H1859.2V1133.9H1856.4V1133.4H1853.7V1137.8H1851.0V1138.2H1848.3V1137.8H1845.6V1137.3H1842.8V1133.5H1840.1V1133.0H1837.4V1132.6H1834.7V1128.8H1832.0V1128.4H1829.2V1128.1H1826.5V1131.9H1823.8V1129.4H1821.1V1129.1H1818.4V1128.8H1815.6V1128.8H1812.9V1128.6H1810.2V1128.5H1807.5V1127.9H1804.8V1127.7H1802.0V1125.9H1799.3V1125.4H1796.6V1125.2H1793.9V1125.0H1791.2V1124.4H1788.4V1121.8H1785.7V1121.1H1783.0V1120.3H1780.3V1119.5H1777.6V1118.8H1774.8V1118.1H1772.1V1122.2H1769.4V1123.1H1766.7V1124.2H1764.0V1126.8H1761.2V1127.9H1758.5V1126.0H1755.8V1126.6H1753.1V1126.1H1750.4V1125.5H1747.6V1125.4H1744.9V1126.3H1742.2V1123.8H1739.5V1123.1H1736.8V1123.0H1734.0V1128.0H1731.3V1127.6H1728.6V1128.1H1725.9V1128.7H1723.2V1129.1H1720.4V1123.0H1717.7V1123.6H1715.0V1124.9H1712.3V1124.2H1709.6V1123.5H1706.8V1121.8H1704.1V1121.1H1701.4V1121.3H1698.7V1119.5H1696.0V1118.9H1693.2V1117.7H1690.5V1118.0H1687.8V1118.3H1685.1V1125.1H1682.4V1122.4H1679.6V1122.8H1676.9V1118.6H1674.2V1119.0H1671.5V1119.1H1668.8V1118.4H1666.0V1124.3H1663.3V1123.6H1660.6V1120.4H1657.9V1120.8H1655.2V1117.8H1652.4V1118.3H1649.7V1118.7H1647.0V1119.1H1644.3V1117.7H1641.6V1115.9H1638.8V1113.7H1636.1V1116.0H1633.4V1113.8H1630.7V1115.0H1628.0V1111.0H1625.2V1111.7H1622.5V1112.4H1619.8V1113.0H1617.1V1115.3H1614.4V1114.9H1611.6V1115.4H1608.9V1121.0H1606.2V1121.2H1603.5V1121.2H1600.8V1120.9H1598.0V1121.2H1595.3V1114.8H1592.6V1114.8H1589.9V1114.8H1587.2V1115.3H1584.4V1115.3H1581.7V1121.7H1579.0V1121.7H1576.3V1121.7H1573.6V1116.9H1570.8V1117.6H1568.1V1118.2H1565.4V1118.8H1562.7V1118.6H1560.0V1117.9H1557.2V1117.2H1554.5V1115.0H1551.8V1114.3H1549.1V1116.2H1546.4V1115.5H1543.6V1115.0H1540.9V1114.5H1538.2V1114.6H1535.5V1114.1H1532.8V1113.6H1530.0V1116.0H1527.3V1115.9H1524.6V1112.8H1521.9V1115.6H1519.2V1115.5H1516.4V1115.3H1513.7V1115.1H1511.0V1108.0H1508.3V1111.4H1505.6V1114.6H1502.8V1115.3H1500.1V1113.7H1497.4V1113.5H1494.7V1116.6H1492.0V1115.9H1489.2V1115.1H1486.5V1114.3H1483.8V1108.8H1481.1V1108.0H1478.4V1111.3H1475.6V1111.1H1472.9V1105.3H1470.2V1105.1H1467.5V1106.8H1464.8V1106.6H1462.0V1106.4H1459.3V1106.2H1456.6V1109.3H1453.9V1108.9H1451.2V1101.9H1448.4V1101.6H1445.7V1105.4H1443.0V1105.0H1440.3V1104.6H1437.6V1106.2H1434.8V1106.2H1432.1V1106.2H1429.4V1103.3H1426.7V1106.4H1424.0V1106.4H1421.2V1099.8H1418.5V1099.8H1415.8V1102.0H1413.1V1100.3H1410.4V1101.6H1407.6V1099.9H1404.9V1098.6H1402.2V1098.7H1399.5V1098.5H1396.8V1098.6H1394.0V1098.8H1391.3V1097.7H1388.6V1097.9H1385.9V1098.5H1383.2V1100.6H1380.4V1091.3H1377.7V1094.5H1375.0V1094.9H1372.3V1096.3H1369.6V1098.9H1366.8V1100.3H1364.1V1100.9H1361.4V1099.3H1358.7V1099.3H1356.0V1098.9H1353.2V1101.6H1350.5V1101.6H1347.8V1097.0H1345.1V1096.8H1342.4V1096.2H1339.6V1096.4H1336.9V1095.7H1334.2V1095.1H1331.5V1099.4H1328.8V1095.5H1326.0V1095.3H1323.3V1092.9H1320.6V1092.6H1317.9V1092.4H1315.2V1089.5H1312.4V1089.0H1309.7V1090.5H1307.0V1097.1H1304.3V1096.6H1301.6V1090.6H1298.8V1090.1H1296.1V1089.7H1293.4V1086.3H1290.7V1086.5H1288.0V1087.9H1285.2V1088.8H1282.5V1087.5H1279.8V1085.7H1277.1V1084.3H1274.4V1081.3H1271.6V1082.2H1268.9V1083.0H1266.2V1083.8H1263.5V1084.0H1260.8V1087.4H1258.0V1087.2H1255.3V1086.4H1252.6V1086.1H1249.9V1090.3H1247.2V1089.7H1244.4V1089.6H1241.7V1089.6H1239.0V1089.6H1236.3V1089.6H1233.6V1083.2H1230.8V1082.3H1228.1V1081.9H1225.4V1080.2H1222.7V1080.9H1220.0V1079.1H1217.2V1075.7H1214.5V1073.7H1211.8V1071.7H1209.1V1070.0H1206.4V1071.7H1203.6V1073.4H1200.9V1074.2H1198.2V1075.9H1195.5V1075.8H1192.8V1074.7H1190.0V1073.6H1187.3V1068.1H1184.6V1067.1H1181.9V1066.7H1179.2V1069.5H1176.4V1069.4H1173.7V1069.2H1171.0V1069.4H1168.3V1069.3H1165.6V1069.2H1162.8V1072.8H1160.1V1072.6H1157.4V1072.5H1154.7V1072.6H1152.0V1074.5H1149.2V1075.0H1146.5V1071.0H1143.8V1071.5H1141.1V1071.8H1138.4V1070.7H1135.6V1073.1H1132.9V1067.6H1130.2V1066.5H1127.5V1065.8H1124.8V1064.7H1122.0V1067.0H1119.3V1065.9H1116.6V1064.9H1113.9V1059.9H1111.2V1061.0H1108.4V1068.1H1105.7V1069.2H1103.0V1070.3H1100.3V1066.7H1097.6V1066.7H1094.8V1062.2H1092.1V1057.7H1089.4V1055.1H1086.7V1055.4H1084.0V1053.7H1081.2V1054.0H1078.5V1054.9H1075.8V1055.2H1073.1V1055.5H1070.4V1055.8H1067.6V1052.4H1064.9V1058.3H1062.2V1055.3H1059.5V1054.1H1056.8V1053.9H1054.0V1052.7H1051.3V1051.5H1048.6V1052.6H1045.9V1051.3H1043.2V1048.3H1040.4V1047.1H1037.7V1046.4H1035.0V1046.9H1032.3V1046.2H1029.6V1045.5H1026.8V1040.2H1024.1V1037.8H1021.4V1040.6H1018.7V1040.0H1016.0V1039.6H1013.2V1041.6H1010.5V1041.3H1007.8V1039.8H1005.1V1039.5H1002.4V1036.8H999.6V1036.5H996.9V1038.9H994.2V1038.6H991.5V1042.0H988.8V1034.2H986.0V1032.5H983.3V1030.9H980.6V1030.1H977.9V1027.7H975.2V1025.0H972.4V1022.3H969.7V1018.9H967.0V1017.7H964.3V1018.8H961.6V1017.6H958.8V1016.4H956.1V1015.0H953.4V1013.8H950.7V1012.2H948.0V1010.4H945.2V1008.4H942.5V1004.8H939.8V1005.6H937.1V1003.8H934.4V1002.6H931.6V1002.4H928.9V1001.6H926.2V1000.9H923.5V998.9H920.8V998.1H918.0V993.7H915.3V993.2H912.6V992.4H909.9V992.0H907.2V999.0H904.4V998.6H901.7V998.2H899.0V995.2H896.3V988.4H893.6V985.9H890.8V983.4H888.1V986.1H885.4V983.6H882.7V978.2H880.0V976.9H877.2V974.1H874.5V971.4H871.8V972.7H869.1V970.0H866.4V967.6H863.6V962.9H860.9V962.2H858.2V958.9H855.5V957.1H852.8V956.5H850.0V954.8H847.3V953.8H844.6V949.8H841.9V951.5H839.2V952.4H836.4V953.3H833.7V958.7H831.0V959.4H828.3V960.3H825.6V960.1H822.8V959.9H820.1V959.7H817.4V955.0H814.7V955.2H812.0V957.6H809.2V955.2H806.5V952.8H803.8V952.7H801.1V950.3H798.4V946.1H795.6V943.7H792.9V941.4H790.2V939.5H787.5V938.4H784.8V934.9H782.0V932.8H779.3V932.0H776.6V930.9H773.9V929.2H771.2V927.3H768.4V925.0H765.7V923.2H763.0V926.5H760.3V925.4H757.6V926.8H754.8V928.1H752.1V929.5H749.4V927.4H746.7V930.9H744.0V939.6H741.2V943.2H738.5V936.5H735.8V935.6H733.1V931.3H730.4V921.5H727.6V914.7H724.9V912.8H722.2V915.5H719.5V914.1H716.8V916.4H714.0V909.7H711.3V908.3H708.6V902.8H705.9V899.4H703.2V899.9H700.4V902.0H697.7V905.3H695.0V911.5H692.3V914.8H689.6V909.7H686.8V904.9H684.1V900.1H681.4V898.4H678.7V897.9H676.0V893.8H673.2V895.8H670.5V897.9H667.8V904.6H665.1V909.2H662.4V913.9H659.6V911.2H656.9V905.9H654.2V903.6H651.5V896.5H648.8V892.9H646.0V889.2H643.3V887.8H640.6V884.3H637.9V874.7H635.2V871.1H632.4V867.6H629.7V870.1H627.0V869.5H624.3V867.7H621.6V867.1H618.8V865.5H616.1V864.9H613.4V864.3H610.7V863.4H608.0V865.1H605.2V864.4H602.5V863.7H599.8V863.8H597.1V861.1H594.4V859.1H591.6V859.1H588.9V859.1H586.2V859.1H583.5V857.9H580.8V857.7H578.0V857.7H575.3V850.3H572.6V844.8H569.9V842.7H567.2V841.4H564.4V847.0H561.7V845.5H559.0V835.9H556.3V834.3H553.6V830.3H550.8V834.0H548.1V834.4H545.4V835.3H542.7V836.2H540.0V839.2H537.2V833.1H534.5V835.8H531.8V843.7H529.1V848.6H526.4V844.7H523.6V844.7H520.9V844.7H518.2V844.6H515.5V849.6H512.8V847.8H510.0V846.1H507.3V843.6H504.6V841.9H501.9V838.5H499.2V839.8H496.4V843.1H493.7V844.2H491.0V841.7H488.3V842.8H485.6V848.8H482.8V849.3H480.1V845.4H477.4V844.5H474.7V842.9H472.0V843.2H469.2V836.8H466.5V833.8H463.8V837.8H461.1V840.9H458.4V835.9H455.6V831.7H452.9V824.2H450.2V813.8H447.5V804.9H444.8V812.1H442.0V818.8H439.3V818.4H436.6V822.6H433.9V824.4H431.2V830.2H428.4V832.1H425.7V837.2H423.0V840.9H420.3V842.6H417.6V845.6H414.8V848.3H412.1V850.1H409.4V851.2H406.7V845.9H404.0V847.2H401.2V845.2H398.5V842.4H395.8V841.1H393.1V839.7H390.4V837.1H387.6V814.5H384.9V813.6H382.2V811.5H379.5V802.8H376.8V783.2H374.0V741.7H371.3V733.8H368.6V743.0H365.9V782.1H363.2V793.1H360.4V819.5H357.7V824.6H355.0V837.7H352.3V847.8H349.6V848.8H346.8V849.8H344.1V850.4H341.4V845.2H338.7V843.9H336.0V844.3H333.2V851.0H330.5V851.4H327.8V862.8H325.1V866.4H322.4V869.1H319.6V872.7H316.9V871.9H314.2V869.5H311.5V861.1H308.8V858.6H306.0V855.7H303.3V857.0H300.6V855.9H297.9V851.9H295.2V858.8H292.4V863.1H289.7V863.1H287.0V863.1H284.3V866.8H281.6V867.5H278.8V867.5H276.1V858.0H273.4V851.0H270.7V846.5H268.0V849.2H265.2V854.8H262.5V856.4H259.8V857.1H257.1V854.1H254.4V853.5H251.6V857.9H248.9V857.1H246.2V854.0H243.5V852.8H240.8V848.3H238.0V843.2H235.3V840.2H232.6V838.4H229.9V838.6H227.2V839.8H224.4V836.4H221.7V835.5H219.0V837.1H216.3V838.4H213.6V843.4H210.8V847.8H208.1V845.9H205.4V837.8H202.7V830.1H200.0V828.9H197.2V832.0H194.5V830.2H191.8V826.7H189.1V823.2H186.4V819.5H183.6V820.0H180.9V820.6H178.2V820.4H175.5V818.8H172.8V820.6H170.0V819.6H167.3V817.6H166.4Z"/>
<path fill="#505050" d="M166.4,1263.8V1263.8H167.3V1264.0H170.0V1264.4H172.8V1264.6H175.5V1266.7H178.2V1274.1H180.9V1271.3H183.6V1274.6H186.4V1278.9H189.1V1276.7H191.8V1278.5H194.5V1280.3H197.2V1279.4H200.0V1281.5H202.7V1281.8H205.4V1279.5H208.1V1282.1H210.8V1285.8H213.6V1286.7H216.3V1287.0H219.0V1289.1H221.7V1289.1H224.4V1289.1H227.2V1285.8H229.9V1288.0H232.6V1292.9H235.3V1292.9H238.0V1292.6H240.8V1289.6H243.5V1291.8H246.2V1291.5H248.9V1293.9H251.6V1293.7H254.4V1293.4H257.1V1297.6H259.8V1295.9H262.5V1297.0H265.2V1299.1H268.0V1303.5H270.7V1300.7H273.4V1299.3H276.1V1300.0H278.8V1302.3H281.6V1304.3H284.3V1301.2H287.0V1300.6H289.7V1303.8H292.4V1303.6H295.2V1295.7H297.9V1295.7H300.6V1296.0H303.3V1296.8H306.0V1304.0H308.8V1304.8H311.5V1311.6H314.2V1309.1H316.9V1304.1H319.6V1305.5H322.4V1307.1H325.1V1308.2H327.8V1307.5H330.5V1302.8H333.2V1297.9H336.0V1296.6H338.7V1297.2H341.4V1300.3H344.1V1278.2H346.8V1276.8H349.6V1272.1H352.3V1265.9H355.0V1240.3H357.7V1207.1H360.4V1202.2H363.2V1202.2H365.9V1199.7H368.6V1201.1H371.3V1202.4H374.0V1203.4H376.8V1206.5H379.5V1239.2H382.2V1254.0H384.9V1274.1H387.6V1278.3H390.4V1278.9H393.1V1279.4H395.8V1278.9H398.5V1283.0H401.2V1290.0H404.0V1290.7H406.7V1287.4H409.4V1284.0H412.1V1278.3H414.8V1276.3H417.6V1275.5H420.3V1277.3H423.0V1276.8H425.7V1276.4H428.4V1275.3H431.2V1270.9H433.9V1265.0H436.6V1262.7H439.3V1262.9H442.0V1263.1H444.8V1262.7H447.5V1269.4H450.2V1273.6H452.9V1271.4H455.6V1273.9H458.4V1279.7H461.1V1284.2H463.8V1288.0H466.5V1292.0H469.2V1283.9H472.0V1280.6H474.7V1280.0H477.4V1279.4H480.1V1278.2H482.8V1277.6H485.6V1278.9H488.3V1281.4H491.0V1283.9H493.7V1282.4H496.4V1279.4H499.2V1271.5H501.9V1278.7H504.6V1280.1H507.3V1281.4H510.0V1280.0H512.8V1279.5H515.5V1282.8H518.2V1278.6H520.9V1278.4H523.6V1278.4H526.4V1280.7H529.1V1280.7H531.8V1279.5H534.5V1249.3H537.2V1249.0H540.0V1251.0H542.7V1255.5H545.4V1265.7H548.1V1273.7H550.8V1275.6H553.6V1275.1H556.3V1270.7H559.0V1269.5H561.7V1274.5H564.4V1274.2H567.2V1268.6H569.9V1268.6H572.6V1270.2H575.3V1273.5H578.0V1273.5H580.8V1275.7H583.5V1286.3H586.2V1282.8H588.9V1287.5H591.6V1283.2H594.4V1283.2H597.1V1286.8H599.8V1284.6H602.5V1287.3H605.2V1299.7H608.0V1300.4H610.7V1300.9H613.4V1294.3H616.1V1293.2H618.8V1292.1H621.6V1294.6H624.3V1295.2H627.0V1293.5H629.7V1295.5H632.4V1297.5H635.2V1303.3H637.9V1299.3H640.6V1305.7H643.3V1305.3H646.0V1305.0H648.8V1304.6H651.5V1305.7H654.2V1310.2H656.9V1312.9H659.6V1315.6H662.4V1319.7H665.1V1317.9H667.8V1316.0H670.5V1307.2H673.2V1310.8H676.0V1314.3H678.7V1322.0H681.4V1325.5H684.1V1328.8H686.8V1331.7H689.6V1334.4H692.3V1336.3H695.0V1336.1H697.7V1338.9H700.4V1338.7H703.2V1338.5H705.9V1336.2H708.6V1334.0H711.3V1335.1H714.0V1336.1H716.8V1337.1H719.5V1342.7H722.2V1343.8H724.9V1344.8H727.6V1345.2H730.4V1346.3H733.1V1345.1H735.8V1347.1H738.5V1345.0H741.2V1346.2H744.0V1346.4H746.7V1348.3H749.4V1349.3H752.1V1347.1H754.8V1347.3H757.6V1347.7H760.3V1355.7H763.0V1359.5H765.7V1363.2H768.4V1366.6H771.2V1366.0H773.9V1366.0H776.6V1365.6H779.3V1367.5H782.0V1366.8H784.8V1366.1H787.5V1360.5H790.2V1364.5H792.9V1366.4H795.6V1368.6H798.4V1370.8H801.1V1366.0H803.8V1368.2H806.5V1369.1H809.2V1374.3H812.0V1375.6H814.7V1376.3H817.4V1376.2H820.1V1374.8H822.8V1376.0H825.6V1374.7H828.3V1376.5H831.0V1377.1H833.7V1379.8H836.4V1382.6H839.2V1383.6H841.9V1385.0H844.6V1387.6H847.3V1388.6H850.0V1389.5H852.8V1391.9H855.5V1392.8H858.2V1395.2H860.9V1398.2H863.6V1401.4H866.4V1404.4H869.1V1403.8H871.8V1405.4H874.5V1406.2H877.2V1407.0H880.0V1408.6H882.7V1409.4H885.4V1411.0H888.1V1413.0H890.8V1410.3H893.6V1412.3H896.3V1417.5H899.0V1418.6H901.7V1421.4H904.4V1422.4H907.2V1420.6H909.9V1421.5H912.6V1419.7H915.3V1420.5H918.0V1429.0H920.8V1429.9H923.5V1430.7H926.2V1428.3H928.9V1429.2H931.6V1429.3H934.4V1430.3H937.1V1431.3H939.8V1433.1H942.5V1437.9H945.2V1440.6H948.0V1439.6H950.7V1441.8H953.4V1445.1H956.1V1442.2H958.8V1442.2H961.6V1441.7H964.3V1446.8H967.0V1448.7H969.7V1443.4H972.4V1445.3H975.2V1451.8H977.9V1455.5H980.6V1455.5H983.3V1455.5H986.0V1449.9H988.8V1449.2H991.5V1449.2H994.2V1450.3H996.9V1453.7H999.6V1457.1H1002.4V1467.0H1005.1V1470.0H1007.8V1470.7H1010.5V1472.0H1013.2V1468.5H1016.0V1469.2H1018.7V1470.4H1021.4V1471.5H1024.1V1469.3H1026.8V1470.4H1029.6V1475.3H1032.3V1476.4H1035.0V1477.1H1037.7V1477.8H1040.4V1472.9H1043.2V1473.6H1045.9V1479.0H1048.6V1479.7H1051.3V1479.9H1054.0V1475.3H1056.8V1475.5H1059.5V1482.6H1062.2V1482.8H1064.9V1482.9H1067.6V1481.4H1070.4V1482.1H1073.1V1482.7H1075.8V1483.3H1078.5V1484.0H1081.2V1484.0H1084.0V1484.5H1086.7V1484.9H1089.4V1480.4H1092.1V1480.9H1094.8V1481.3H1097.6V1481.7H1100.3V1487.0H1103.0V1487.9H1105.7V1488.5H1108.4V1489.4H1111.2V1490.3H1113.9V1492.5H1116.6V1494.5H1119.3V1494.1H1122.0V1500.4H1124.8V1502.8H1127.5V1503.1H1130.2V1502.4H1132.9V1501.8H1135.6V1500.7H1138.4V1500.1H1141.1V1500.1H1143.8V1500.1H1146.5V1496.9H1149.2V1496.9H1152.0V1493.2H1154.7V1482.5H1157.4V1482.5H1160.1V1483.2H1162.8V1483.0H1165.6V1504.3H1168.3V1506.1H1171.0V1505.1H1173.7V1505.1H1176.4V1505.8H1179.2V1506.8H1181.9V1507.7H1184.6V1506.8H1187.3V1507.8H1190.0V1511.1H1192.8V1512.1H1195.5V1513.4H1198.2V1513.7H1200.9V1507.8H1203.6V1508.1H1206.4V1512.3H1209.1V1512.6H1211.8V1511.6H1214.5V1512.8H1217.2V1512.1H1220.0V1510.2H1222.7V1509.8H1225.4V1509.2H1228.1V1508.7H1230.8V1503.4H1233.6V1506.7H1236.3V1506.7H1239.0V1508.1H1241.7V1508.1H1244.4V1504.0H1247.2V1504.0H1249.9V1504.8H1252.6V1505.1H1255.3V1507.1H1258.0V1509.2H1260.8V1509.4H1263.5V1511.5H1266.2V1511.6H1268.9V1517.0H1271.6V1515.4H1274.4V1514.8H1277.1V1514.3H1279.8V1510.6H1282.5V1513.3H1285.2V1521.4H1288.0V1521.5H1290.7V1521.9H1293.4V1523.8H1296.1V1524.2H1298.8V1523.0H1301.6V1521.9H1304.3V1522.0H1307.0V1521.3H1309.7V1523.3H1312.4V1522.6H1315.2V1525.7H1317.9V1525.0H1320.6V1524.3H1323.3V1520.5H1326.0V1519.3H1328.8V1521.0H1331.5V1522.7H1334.2V1524.9H1336.9V1526.6H1339.6V1527.0H1342.4V1528.4H1345.1V1529.7H1347.8V1533.1H1350.5V1534.4H1353.2V1534.5H1356.0V1534.8H1358.7V1534.2H1361.4V1532.7H1364.1V1532.0H1366.8V1531.3H1369.6V1524.7H1372.3V1529.0H1375.0V1528.4H1377.7V1528.1H1380.4V1527.9H1383.2V1527.4H1385.9V1527.2H1388.6V1527.1H1391.3V1530.3H1394.0V1534.7H1396.8V1537.0H1399.5V1537.2H1402.2V1537.2H1404.9V1539.7H1407.6V1539.7H1410.4V1540.3H1413.1V1541.1H1415.8V1536.5H1418.5V1537.7H1421.2V1538.8H1424.0V1540.7H1426.7V1541.9H1429.4V1546.1H1432.1V1546.8H1434.8V1546.8H1437.6V1546.8H1440.3V1541.5H1443.0V1541.5H1445.7V1544.8H1448.4V1544.8H1451.2V1544.7H1453.9V1545.6H1456.6V1537.5H1459.3V1543.2H1462.0V1543.6H1464.8V1544.1H1467.5V1543.4H1470.2V1542.7H1472.9V1537.2H1475.6V1536.5H1478.4V1538.6H1481.1V1541.7H1483.8V1545.6H1486.5V1547.2H1489.2V1547.5H1492.0V1547.9H1494.7V1547.7H1497.4V1548.1H1500.1V1545.0H1502.8V1545.4H1505.6V1545.7H1508.3V1545.7H1511.0V1546.0H1513.7V1546.4H1516.4V1550.8H1519.2V1551.2H1521.9V1551.5H1524.6V1550.2H1527.3V1550.5H1530.0V1550.8H1532.8V1551.2H1535.5V1551.0H1538.2V1550.8H1540.9V1552.7H1543.6V1552.5H1546.4V1551.9H1549.1V1551.7H1551.8V1551.8H1554.5V1552.1H1557.2V1550.0H1560.0V1550.3H1562.7V1550.6H1565.4V1555.9H1568.1V1553.5H1570.8V1552.5H1573.6V1551.9H1576.3V1549.2H1579.0V1548.8H1581.7V1548.3H1584.4V1544.4H1587.2V1546.6H1589.9V1548.3H1592.6V1547.2H1595.3V1545.4H1598.0V1547.0H1600.8V1548.7H1603.5V1550.7H1606.2V1555.1H1608.9V1556.0H1611.6V1553.0H1614.4V1553.4H1617.1V1553.8H1619.8V1553.3H1622.5V1553.6H1625.2V1554.0H1628.0V1554.4H1630.7V1552.7H1633.4V1551.5H1636.1V1553.9H1638.8V1544.1H1641.6V1547.2H1644.3V1548.5H1647.0V1551.2H1649.7V1553.9H1652.4V1553.1H1655.2V1553.1H1657.9V1555.7H1660.6V1555.7H1663.3V1555.7H1666.0V1555.7H1668.8V1557.6H1671.5V1558.5H1674.2V1559.4H1676.9V1560.3H1679.6V1560.3H1682.4V1562.6H1685.1V1563.1H1687.8V1563.1H1690.5V1561.1H1693.2V1562.1H1696.0V1560.8H1698.7V1560.8H1701.4V1560.8H1704.1V1561.9H1706.8V1561.1H1709.6V1557.6H1712.3V1556.7H1715.0V1555.9H1717.7V1555.1H1720.4V1556.0H1723.2V1555.7H1725.9V1556.0H1728.6V1555.7H1731.3V1555.5H1734.0V1547.5H1736.8V1548.8H1739.5V1544.6H1742.2V1544.6H1744.9V1549.1H1747.6V1554.0H1750.4V1560.9H1753.1V1561.7H1755.8V1562.4H1758.5V1563.6H1761.2V1563.1H1764.0V1562.7H1766.7V1557.8H1769.4V1557.4H1772.1V1562.8H1774.8V1562.4H1777.6V1562.9H1780.3V1565.3H1783.0V1566.1H1785.7V1565.9H1788.4V1566.7H1791.2V1564.0H1793.9V1563.5H1796.6V1563.0H1799.3V1561.2H1802.0V1560.7H1804.8V1560.2H1807.5V1561.8H1810.2V1561.3H1812.9V1557.4H1815.6V1557.0H1818.4V1560.6H1821.1V1560.6H1823.8V1555.2H1826.5V1560.1H1829.2V1560.1H1832.0V1560.3H1834.7V1560.3H1837.4V1561.6H1840.1V1563.3H1842.8V1565.0H1845.6V1566.7H1848.3V1566.7H1851.0V1563.3H1853.7V1563.1H1856.4V1564.8H1859.2V1564.6H1861.9V1564.4H1864.6V1564.6H1867.3V1564.4H1870.0V1564.8H1872.8V1565.3H1875.5V1565.0H1878.2V1565.5H1880.9V1564.3H1883.6V1564.7H1886.4V1564.9H1889.1V1568.2H1891.8V1567.4H1894.5V1566.5H1897.2V1565.7H1900.0V1562.3H1902.7V1561.5H1905.4V1560.7H1908.1V1563.3H1910.8V1565.2H1913.6V1567.1H1916.3V1570.1H1919.0V1572.5H1921.7V1572.2H1924.4V1572.1H1927.2V1571.1H1929.9V1571.7H1932.6V1570.7H1935.3V1569.5H1938.0V1569.4H1940.8V1569.9H1943.5V1570.3H1946.2V1572.0H1948.9V1572.5H1951.6V1572.1H1954.4V1572.5H1957.1V1572.9H1959.8V1573.3H1962.5V1573.7H1965.2V1574.1H1968.0V1573.9H1970.7V1574.3H1973.4V1574.7H1976.1V1574.5H1978.8V1573.8H1981.6V1573.2H1984.3V1572.4H1987.0V1570.4H1989.7V1569.6H1992.4V1569.5H1995.2V1566.4H1997.9V1566.4H2000.6V1566.4H2003.3V1574.9H2006.0V1574.9H2008.8V1574.9H2011.5V1574.9H2014.2V1572.0H2016.9V1572.8H2019.6V1572.0H2022.4V1572.9H2025.1V1570.5H2027.8V1571.2H2030.5V1576.5H2033.2V1576.5H2036.0V1576.5H2038.7V1577.5H2041.4V1574.6H2044.1V1575.3H2046.8V1575.3H2049.6V1575.6H2052.3V1577.7H2055.0V1576.3H2057.7V1576.6H2060.4V1580.3H2063.2V1571.8H2065.9V1572.1H2068.6V1576.7H2071.3V1576.8H2074.0V1575.3H2076.8V1578.0H2079.5V1577.8H2082.2V1580.7H2084.9V1580.5H2087.6V1577.9H2090.4V1578.8H2093.1V1579.2H2095.8V1577.5H2098.5V1582.1H2101.2V1583.0H2104.0V1583.3H2106.7V1581.2H2109.4V1580.4H2112.1V1575.2H2114.8V1574.4H2117.6V1572.5H2120.3V1571.7H2123.0V1571.7H2125.7V1573.1H2128.4V1576.2H2131.2V1577.6H2133.9V1578.9H2136.6V1580.3H2139.3V1582.0H2142.0V1581.1H2144.8V1580.2H2147.5V1579.3H2150.2V1576.1H2152.9V1575.2H2155.6V1574.3H2158.4V1574.8H2161.1V1583.1H2163.8V1583.8H2166.5V1584.5H2169.2V1582.1H2172.0V1582.7H2174.7V1583.4H2177.4V1584.1H2180.1V1583.7H2182.8V1582.5H2185.6V1583.2H2188.3V1588.6H2191.0V1582.7H2193.7V1583.4H2196.4V1588.3H2199.2V1588.8H2201.9V1588.4H2204.6V1587.9H2207.3V1586.2H2210.0V1585.8H2212.8V1586.7H2215.5V1586.2H2218.2V1586.0H2220.9V1586.9H2223.6V1587.1H2226.4V1587.4H2229.1V1589.3H2231.8V1589.5H2234.5V1586.4H2237.2V1586.3H2240.0V1587.0H2242.7V1586.6H2245.4V1586.3H2248.1V1587.5H2250.8V1587.1H2253.6V1585.4H2256.3V1585.1H2259.0V1584.8H2261.7V1585.2H2264.4V1585.1H2267.2V1586.2H2269.9V1587.2H2272.6V1588.2H2275.3V1586.1H2278.0V1585.6H2280.8V1586.7H2283.5V1595.4H2286.2V1595.3H2288.9V1594.4H2291.6V1587.1H2294.4V1586.1H2297.1V1591.0H2299.8V1584.8H2302.5V1583.9H2305.2V1583.1H2308.0V1584.6H2310.7V1583.9H2313.4V1583.2H2316.1V1584.0H2318.8V1583.3H2321.6V1582.7H2324.3V1581.6H2327.0V1583.5H2329.7V1585.4H2332.4V1587.3H2335.2V1589.9H2337.9V1591.1H2340.6V1591.1H2343.3V1596.7H2346.0V1589.2H2348.8V1589.2H2351.5V1593.0H2354.2V1593.0H2356.9V1593.0H2359.6V1595.3H2362.4V1595.3H2365.1V1595.3H2367.8V1590.9H2370.5V1590.9H2373.2V1590.9H2376.0V1590.9H2378.7V1594.7H2381.4V1594.2H2384.1V1595.1H2386.8V1597.1H2389.6V1598.0H2392.3V1598.5H2393.0V1613.8H2392.3V1613.7H2389.6V1616.5H2386.8V1612.4H2384.1V1612.3H2381.4V1614.8H2378.7V1614.6H2376.0V1614.5H2373.2V1614.4H2370.5V1614.6H2367.8V1614.4H2365.1V1614.3H2362.4V1613.6H2359.6V1613.4H2356.9V1613.3H2354.2V1612.2H2351.5V1612.5H2348.8V1618.8H2346.0V1619.1H2343.3V1612.6H2340.6V1612.9H2337.9V1616.1H2335.2V1616.4H2332.4V1616.9H2329.7V1617.2H2327.0V1617.4H2324.3V1614.1H2321.6V1613.8H2318.8V1613.6H2316.1V1613.3H2313.4V1617.2H2310.7V1616.9H2308.0V1613.9H2305.2V1613.6H2302.5V1613.4H2299.8V1613.2H2297.1V1615.1H2294.4V1611.5H2291.6V1611.5H2288.9V1611.5H2286.2V1614.3H2283.5V1614.3H2280.8V1614.3H2278.0V1612.7H2275.3V1612.7H2272.6V1614.8H2269.9V1614.8H2267.2V1614.8H2264.4V1616.3H2261.7V1616.2H2259.0V1616.1H2256.3V1615.9H2253.6V1609.9H2250.8V1609.3H2248.1V1609.1H2245.4V1614.4H2242.7V1614.2H2240.0V1614.1H2237.2V1608.5H2234.5V1608.3H2231.8V1612.4H2229.1V1612.3H2226.4V1612.1H2223.6V1609.5H2220.9V1608.9H2218.2V1608.8H2215.5V1608.2H2212.8V1608.0H2210.0V1607.8H2207.3V1611.0H2204.6V1610.8H2201.9V1610.6H2199.2V1605.8H2196.4V1605.7H2193.7V1605.5H2191.0V1608.4H2188.3V1608.2H2185.6V1609.6H2182.8V1609.4H2180.1V1609.2H2177.4V1610.1H2174.7V1609.9H2172.0V1609.8H2169.2V1609.6H2166.5V1608.3H2163.8V1610.8H2161.1V1611.0H2158.4V1607.6H2155.6V1607.5H2152.9V1607.3H2150.2V1606.2H2147.5V1606.0H2144.8V1605.8H2142.0V1605.7H2139.3V1604.8H2136.6V1604.8H2133.9V1604.8H2131.2V1605.3H2128.4V1611.6H2125.7V1611.6H2123.0V1604.4H2120.3V1604.4H2117.6V1609.8H2114.8V1609.8H2112.1V1609.8H2109.4V1610.0H2106.7V1609.8H2104.0V1601.1H2101.2V1600.8H2098.5V1601.7H2095.8V1601.4H2093.1V1601.1H2090.4V1600.8H2087.6V1604.0H2084.9V1603.7H2082.2V1603.4H2079.5V1604.8H2076.8V1604.6H2074.0V1604.3H2071.3V1600.1H2068.6V1599.8H2065.9V1602.0H2063.2V1601.8H2060.4V1601.8H2057.7V1601.8H2055.0V1601.6H2052.3V1601.6H2049.6V1600.9H2046.8V1600.9H2044.1V1600.9H2041.4V1600.9H2038.7V1604.6H2036.0V1604.6H2033.2V1601.8H2030.5V1601.6H2027.8V1601.4H2025.1V1601.1H2022.4V1603.9H2019.6V1603.7H2016.9V1599.2H2014.2V1598.9H2011.5V1598.9H2008.8V1598.5H2006.0V1598.3H2003.3V1598.1H2000.6V1594.4H1997.9V1594.0H1995.2V1593.6H1992.4V1600.0H1989.7V1599.5H1987.0V1599.1H1984.3V1598.7H1981.6V1590.9H1978.8V1592.5H1976.1V1594.6H1973.4V1594.3H1970.7V1593.8H1968.0V1594.4H1965.2V1594.0H1962.5V1593.7H1959.8V1593.2H1957.1V1592.8H1954.4V1593.0H1951.6V1592.2H1948.9V1592.6H1946.2V1591.3H1943.5V1592.9H1940.8V1593.4H1938.0V1593.8H1935.3V1594.2H1932.6V1593.6H1929.9V1594.1H1927.2V1594.5H1924.4V1597.4H1921.7V1597.6H1919.0V1597.9H1916.3V1598.0H1913.6V1599.1H1910.8V1599.3H1908.1V1599.5H1905.4V1599.3H1902.7V1593.4H1900.0V1602.2H1897.2V1601.7H1894.5V1601.1H1891.8V1600.6H1889.1V1591.9H1886.4V1591.1H1883.6V1590.4H1880.9V1590.1H1878.2V1589.4H1875.5V1595.0H1872.8V1594.3H1870.0V1593.5H1867.3V1590.0H1864.6V1589.2H1861.9V1586.8H1859.2V1587.8H1856.4V1587.9H1853.7V1588.1H1851.0V1587.9H1848.3V1586.9H1845.6V1584.1H1842.8V1584.3H1840.1V1584.4H1837.4V1584.5H1834.7V1590.3H1832.0V1590.2H1829.2V1590.6H1826.5V1590.4H1823.8V1587.4H1821.1V1587.2H1818.4V1588.3H1815.6V1588.1H1812.9V1584.6H1810.2V1584.4H1807.5V1584.0H1804.8V1583.6H1802.0V1585.1H1799.3V1584.7H1796.6V1584.3H1793.9V1585.7H1791.2V1585.3H1788.4V1584.7H1785.7V1579.3H1783.0V1586.4H1780.3V1585.7H1777.6V1585.0H1774.8V1579.9H1772.1V1579.2H1769.4V1579.8H1766.7V1582.1H1764.0V1582.7H1761.2V1584.3H1758.5V1584.9H1755.8V1585.6H1753.1V1586.1H1750.4V1584.2H1747.6V1584.1H1744.9V1584.0H1742.2V1583.9H1739.5V1580.5H1736.8V1580.4H1734.0V1581.3H1731.3V1582.1H1728.6V1582.2H1725.9V1585.2H1723.2V1585.3H1720.4V1585.4H1717.7V1585.7H1715.0V1585.8H1712.3V1585.1H1709.6V1585.2H1706.8V1585.3H1704.1V1585.2H1701.4V1583.9H1698.7V1586.3H1696.0V1582.7H1693.2V1583.1H1690.5V1590.0H1687.8V1584.1H1685.1V1582.6H1682.4V1589.4H1679.6V1589.3H1676.9V1589.3H1674.2V1582.7H1671.5V1582.7H1668.8V1582.7H1666.0V1584.1H1663.3V1584.1H1660.6V1587.1H1657.9V1587.1H1655.2V1587.1H1652.4V1587.9H1649.7V1584.2H1647.0V1584.1H1644.3V1583.0H1641.6V1582.9H1638.8V1582.3H1636.1V1582.8H1633.4V1582.6H1630.7V1582.5H1628.0V1586.6H1625.2V1586.1H1622.5V1579.3H1619.8V1578.5H1617.1V1577.7H1614.4V1577.0H1611.6V1579.7H1608.9V1579.0H1606.2V1578.0H1603.5V1576.1H1600.8V1575.7H1598.0V1575.3H1595.3V1574.9H1592.6V1574.4H1589.9V1574.0H1587.2V1571.5H1584.4V1573.8H1581.7V1574.1H1579.0V1577.8H1576.3V1578.1H1573.6V1574.3H1570.8V1574.6H1568.1V1575.7H1565.4V1576.0H1562.7V1575.7H1560.0V1578.0H1557.2V1577.2H1554.5V1576.5H1551.8V1575.7H1549.1V1577.0H1546.4V1576.3H1543.6V1571.1H1540.9V1571.8H1538.2V1572.5H1535.5V1573.2H1532.8V1574.7H1530.0V1575.4H1527.3V1576.1H1524.6V1576.8H1521.9V1576.0H1519.2V1575.6H1516.4V1575.1H1513.7V1574.7H1511.0V1574.6H1508.3V1574.1H1505.6V1573.7H1502.8V1573.2H1500.1V1570.5H1497.4V1570.4H1494.7V1569.9H1492.0V1569.5H1489.2V1574.1H1486.5V1572.9H1483.8V1564.9H1481.1V1563.9H1478.4V1561.8H1475.6V1563.8H1472.9V1564.3H1470.2V1564.8H1467.5V1559.7H1464.8V1560.2H1462.0V1560.7H1459.3V1566.1H1456.6V1566.6H1453.9V1567.1H1451.2V1571.9H1448.4V1572.1H1445.7V1566.1H1443.0V1566.4H1440.3V1566.3H1437.6V1566.5H1434.8V1566.5H1432.1V1568.7H1429.4V1568.5H1426.7V1563.9H1424.0V1568.8H1421.2V1568.8H1418.5V1568.6H1415.8V1568.4H1413.1V1568.2H1410.4V1565.8H1407.6V1565.4H1404.9V1569.5H1402.2V1569.1H1399.5V1568.8H1396.8V1568.4H1394.0V1562.7H1391.3V1560.8H1388.6V1567.7H1385.9V1561.9H1383.2V1561.3H1380.4V1560.6H1377.7V1560.0H1375.0V1559.6H1372.3V1559.0H1369.6V1558.4H1366.8V1557.7H1364.1V1556.3H1361.4V1554.6H1358.7V1555.1H1356.0V1554.3H1353.2V1553.7H1350.5V1552.9H1347.8V1548.9H1345.1V1550.9H1342.4V1556.9H1339.6V1554.6H1336.9V1556.2H1334.2V1558.9H1331.5V1557.8H1328.8V1556.6H1326.0V1555.4H1323.3V1558.2H1320.6V1557.0H1317.9V1555.9H1315.2V1552.5H1312.4V1552.3H1309.7V1552.1H1307.0V1552.4H1304.3V1552.2H1301.6V1552.0H1298.8V1551.8H1296.1V1549.4H1293.4V1547.5H1290.7V1545.6H1288.0V1543.7H1285.2V1542.3H1282.5V1541.1H1279.8V1541.5H1277.1V1541.9H1274.4V1542.2H1271.6V1542.6H1268.9V1542.0H1266.2V1542.4H1263.5V1542.8H1260.8V1544.1H1258.0V1547.1H1255.3V1547.4H1252.6V1548.8H1249.9V1546.1H1247.2V1542.9H1244.4V1539.2H1241.7V1538.9H1239.0V1545.9H1236.3V1539.4H1233.6V1540.8H1230.8V1543.7H1228.1V1543.2H1225.4V1540.4H1222.7V1537.2H1220.0V1535.9H1217.2V1540.1H1214.5V1541.4H1211.8V1542.8H1209.1V1543.7H1206.4V1539.2H1203.6V1537.2H1200.9V1541.6H1198.2V1539.6H1195.5V1535.2H1192.8V1530.2H1190.0V1529.7H1187.3V1529.2H1184.6V1530.9H1181.9V1530.4H1179.2V1529.3H1176.4V1528.8H1173.7V1534.2H1171.0V1540.4H1168.3V1547.2H1165.6V1547.2H1162.8V1547.2H1160.1V1541.9H1157.4V1539.8H1154.7V1538.9H1152.0V1534.8H1149.2V1532.7H1146.5V1537.8H1143.8V1536.4H1141.1V1527.3H1138.4V1526.8H1135.6V1526.4H1132.9V1527.9H1130.2V1527.5H1127.5V1526.9H1124.8V1524.6H1122.0V1523.8H1119.3V1523.0H1116.6V1522.2H1113.9V1522.0H1111.2V1521.2H1108.4V1520.4H1105.7V1516.9H1103.0V1516.1H1100.3V1518.5H1097.6V1519.8H1094.8V1522.3H1092.1V1524.3H1089.4V1525.7H1086.7V1523.5H1084.0V1526.1H1081.2V1523.3H1078.5V1522.4H1075.8V1519.7H1073.1V1516.9H1070.4V1514.2H1067.6V1512.6H1064.9V1510.1H1062.2V1511.0H1059.5V1510.7H1056.8V1511.7H1054.0V1512.6H1051.3V1512.9H1048.6V1512.6H1045.9V1510.8H1043.2V1509.8H1040.4V1508.0H1037.7V1506.2H1035.0V1505.8H1032.3V1504.0H1029.6V1502.9H1026.8V1500.0H1024.1V1499.0H1021.4V1497.9H1018.7V1493.2H1016.0V1493.1H1013.2V1493.1H1010.5V1493.1H1007.8V1496.9H1005.1V1496.9H1002.4V1492.0H999.6V1488.4H996.9V1484.8H994.2V1485.4H991.5V1486.1H988.8V1488.0H986.0V1488.7H983.3V1488.2H980.6V1488.4H977.9V1487.5H975.2V1486.5H972.4V1485.6H969.7V1484.7H967.0V1478.7H964.3V1472.1H961.6V1468.3H958.8V1470.4H956.1V1472.4H953.4V1479.2H950.7V1478.1H948.0V1475.4H945.2V1471.5H942.5V1468.7H939.8V1466.0H937.1V1461.3H934.4V1459.9H931.6V1459.5H928.9V1459.4H926.2V1458.3H923.5V1457.9H920.8V1464.5H918.0V1464.1H915.3V1464.0H912.6V1459.1H909.9V1460.7H907.2V1461.4H904.4V1461.3H901.7V1460.4H899.0V1458.6H896.3V1456.6H893.6V1452.0H890.8V1448.7H888.1V1445.5H885.4V1442.2H882.7V1446.1H880.0V1443.3H877.2V1442.1H874.5V1440.9H871.8V1437.3H869.1V1436.2H866.4V1435.0H863.6V1431.9H860.9V1429.2H858.2V1424.1H855.5V1419.5H852.8V1418.2H850.0V1417.1H847.3V1415.7H844.6V1410.0H841.9V1413.2H839.2V1414.2H836.4V1415.2H833.7V1416.3H831.0V1415.5H828.3V1413.5H825.6V1411.9H822.8V1412.6H820.1V1412.8H817.4V1411.6H814.7V1411.9H812.0V1413.6H809.2V1410.6H806.5V1407.6H803.8V1404.6H801.1V1401.9H798.4V1399.1H795.6V1398.2H792.9V1398.1H790.2V1397.4H787.5V1400.5H784.8V1398.9H782.0V1402.0H779.3V1407.5H776.6V1403.9H773.9V1398.9H771.2V1393.9H768.4V1397.0H765.7V1396.8H763.0V1396.6H760.3V1397.3H757.6V1397.1H754.8V1396.8H752.1V1390.3H749.4V1388.2H746.7V1386.2H744.0V1381.4H741.2V1379.3H738.5V1377.3H735.8V1384.6H733.1V1376.6H730.4V1377.3H727.6V1378.0H724.9V1378.9H722.2V1385.5H719.5V1386.4H716.8V1382.2H714.0V1374.6H711.3V1369.2H708.6V1361.7H705.9V1360.4H703.2V1363.4H700.4V1363.4H697.7V1363.4H695.0V1362.7H692.3V1359.6H689.6V1358.8H686.8V1358.0H684.1V1356.0H681.4V1355.2H678.7V1353.2H676.0V1351.7H673.2V1350.6H670.5V1352.4H667.8V1352.4H665.1V1352.4H662.4V1350.9H659.6V1350.9H656.9V1349.8H654.2V1349.3H651.5V1347.3H648.8V1346.8H646.0V1344.8H643.3V1342.7H640.6V1337.8H637.9V1336.7H635.2V1335.5H632.4V1334.4H629.7V1333.5H627.0V1332.3H624.3V1329.9H621.6V1329.3H618.8V1334.7H616.1V1328.7H613.4V1336.3H610.7V1329.8H608.0V1328.2H605.2V1326.2H602.5V1324.6H599.8V1320.2H597.1V1318.6H594.4V1320.2H591.6V1319.3H588.9V1319.5H586.2V1319.8H583.5V1320.5H580.8V1320.7H578.0V1318.7H575.3V1318.7H572.6V1318.7H569.9V1320.3H567.2V1320.3H564.4V1320.3H561.7V1316.4H559.0V1312.3H556.3V1308.1H553.6V1310.2H550.8V1302.2H548.1V1299.9H545.4V1298.7H542.7V1301.8H540.0V1308.6H537.2V1311.5H534.5V1314.2H531.8V1311.2H529.1V1312.3H526.4V1313.1H523.6V1313.9H520.9V1315.6H518.2V1316.5H515.5V1321.1H512.8V1322.8H510.0V1324.4H507.3V1320.1H504.6V1318.1H501.9V1316.1H499.2V1316.6H496.4V1314.9H493.7V1313.7H491.0V1312.7H488.3V1312.5H485.6V1312.3H482.8V1314.6H480.1V1317.1H477.4V1320.6H474.7V1324.7H472.0V1324.9H469.2V1324.3H466.5V1324.3H463.8V1323.5H461.1V1322.6H458.4V1318.0H455.6V1314.0H452.9V1308.5H450.2V1304.2H447.5V1304.5H444.8V1307.3H442.0V1310.8H439.3V1314.9H436.6V1324.4H433.9V1332.0H431.2V1332.7H428.4V1327.3H425.7V1323.9H423.0V1320.6H420.3V1320.2H417.6V1321.9H414.8V1326.0H412.1V1328.1H409.4V1329.5H406.7V1330.5H404.0V1328.9H401.2V1332.6H398.5V1331.1H395.8V1330.0H393.1V1329.0H390.4V1329.2H387.6V1321.9H384.9V1317.8H382.2V1304.6H379.5V1289.4H376.8V1277.5H374.0V1262.3H371.3V1252.3H368.6V1247.7H365.9V1277.8H363.2V1280.9H360.4V1305.5H357.7V1309.5H355.0V1314.7H352.3V1324.3H349.6V1335.7H346.8V1338.4H344.1V1331.8H341.4V1329.8H338.7V1327.5H336.0V1327.9H333.2V1333.4H330.5V1333.4H327.8V1333.4H325.1V1335.5H322.4V1335.5H319.6V1335.5H316.9V1340.3H314.2V1342.3H311.5V1344.2H308.8V1345.8H306.0V1342.8H303.3V1339.9H300.6V1336.9H297.9V1329.2H295.2V1329.4H292.4V1333.0H289.7V1333.2H287.0V1335.2H284.3V1334.1H281.6V1335.9H278.8V1340.4H276.1V1341.4H273.4V1341.2H270.7V1338.9H268.0V1337.8H265.2V1334.2H262.5V1335.5H259.8V1337.5H257.1V1338.2H254.4V1338.2H251.6V1339.8H248.9V1335.5H246.2V1330.0H243.5V1329.3H240.8V1329.6H238.0V1330.3H235.3V1332.1H232.6V1332.3H229.9V1333.0H227.2V1333.0H224.4V1333.3H221.7V1334.8H219.0V1331.2H216.3V1330.7H213.6V1328.8H210.8V1326.9H208.1V1321.0H205.4V1317.6H202.7V1318.1H200.0V1321.7H197.2V1311.8H194.5V1306.2H191.8V1304.6H189.1V1303.5H186.4V1302.4H183.6V1306.8H180.9V1309.0H178.2V1309.6H175.5V1310.1H172.8V1315.1H170.0V1312.4H167.3V1310.2H166.4Z"/>
<g stroke="#000" stroke-opacity="0.71" fill="none" stroke-dasharray="7.8 5.6">
<line x1="372" y1="48.3" x2="372" y2="1463.7" stroke-width="7.8"/>
<line x1="444.5" y1="136" x2="441.5" y2="1452.7" stroke-width="5.5"/>
<line x1="546.4" y1="155" x2="543.9" y2="1471.8" stroke-width="7"/>
</g>
<line x1="373.6" y1="79.5" x2="624" y2="79.5" stroke="#000" stroke-width="2.6"/><polygon fill="#000" points="575.2,67.3 621,79.5 575.2,91.6"/>
<line x1="447" y1="166.5" x2="697.8" y2="166.5" stroke="#000" stroke-width="2.6"/><polygon fill="#000" points="651.4,154.5 694,166.5 651.4,177.8"/>
<line x1="550.6" y1="232" x2="798.2" y2="232" stroke="#000" stroke-width="2.6"/><polygon fill="#000" points="752.2,219.9 795,232 752.2,243.9"/>
<g stroke="#fff" stroke-width="1.6" lengthAdjust="spacingAndGlyphs">
<text x="636.6" y="99.9" font-size="74" textLength="277.1" lengthAdjust="spacingAndGlyphs">(200/110)</text>
<text x="715.1" y="171.2" font-size="72" textLength="152.2" lengthAdjust="spacingAndGlyphs">(203)</text>
<text x="819.3" y="255.5" font-size="75" textLength="154.2" lengthAdjust="spacingAndGlyphs">(210)</text>
</g>
<text x="1132.4" y="456.6" font-size="86" textLength="176.9" lengthAdjust="spacingAndGlyphs">PGN</text>
<text x="1140.6" y="984.9" font-size="86">PSG</text>
<text x="1130" y="1425.4" font-size="86">PLL<tspan x="1296.7" textLength="58.4" lengthAdjust="spacingAndGlyphs">A</tspan></text>
<g font-size="86" text-anchor="middle">
<text x="166.4" y="1769">10</text>
<text x="485.1" y="1769">20</text>
<text x="803.8" y="1769">30</text>
<text x="1122.5" y="1769">40</text>
<text x="1441.2" y="1769">50</text>
<text x="1759.9" y="1769">60</text>
<text x="2078.6" y="1769">70</text>
<text x="2397.3" y="1769">80</text>
</g>
<text x="1015.5" y="1872" font-size="101">2<tspan dx="3.5">θ (degree</tspan><tspan dx="-2.5">)</tspan></text>
<text transform="translate(84.7,1192.1) rotate(-90)" font-size="100.5">Intensity (a.u.)</text>
</svg></body></html>
